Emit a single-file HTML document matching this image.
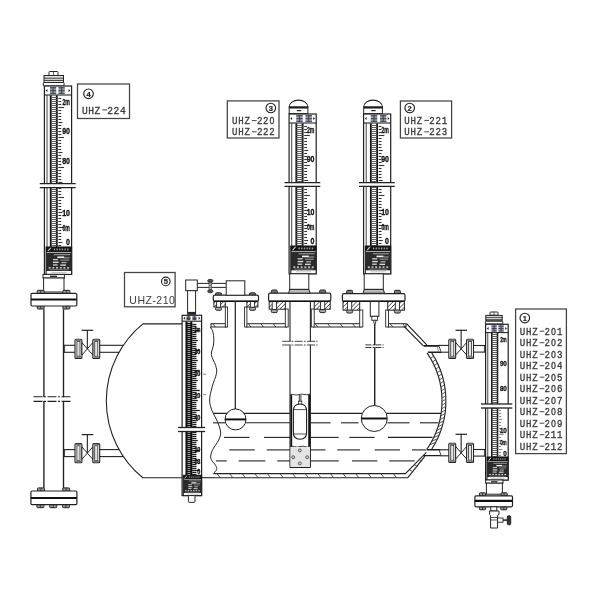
<!DOCTYPE html>
<html><head><meta charset="utf-8"><title>UHZ level gauges</title>
<style>
html,body{margin:0;padding:0;background:#fff;}
body{width:600px;height:600px;overflow:hidden;font-family:"Liberation Sans",sans-serif;}
svg{display:block;filter:blur(0.35px);}
svg text{font-family:"Liberation Sans",sans-serif;}
svg .m text{font-family:"Liberation Mono",monospace;}
</style></head><body>
<svg width="600" height="600" viewBox="0 0 600 600">
<rect width="600" height="600" fill="#fff"/>
<rect x="77.50" y="84.00" width="52.00" height="34.50" rx="0" fill="#fff" stroke="#444" stroke-width="1.265" />
<circle cx="88.50" cy="93.80" r="4.80" fill="#fff" stroke="#222" stroke-width="1.15"/>
<text x="88.50" y="96.50" font-size="7.6" text-anchor="middle" fill="#222" stroke="#222" stroke-width="0.2" font-weight="bold">4</text>
<g class="m" font-size="10.9" fill="#3c3c3c" stroke="#3c3c3c" stroke-width="0.36" text-anchor="middle"><text transform="translate(84.77,113.50) scale(0.88,1)">U</text><text transform="translate(91.11,113.50) scale(0.88,1)">H</text><text transform="translate(97.45,113.50) scale(0.88,1)">Z</text><line x1="102.18" y1="109.90" x2="107.20" y2="109.90" stroke-width="0.95"/><text transform="translate(110.13,113.50) scale(0.88,1)">2</text><text transform="translate(116.47,113.50) scale(0.88,1)">2</text><text transform="translate(122.81,113.50) scale(0.88,1)">4</text></g>
<rect x="227.30" y="100.90" width="51.70" height="37.10" rx="0" fill="#fff" stroke="#444" stroke-width="1.265" />
<circle cx="270.80" cy="108.00" r="4.80" fill="#fff" stroke="#222" stroke-width="1.15"/>
<text x="270.80" y="110.70" font-size="7.6" text-anchor="middle" fill="#222" stroke="#222" stroke-width="0.2" font-weight="bold">3</text>
<g class="m" font-size="10.3" fill="#3c3c3c" stroke="#3c3c3c" stroke-width="0.36" text-anchor="middle"><text transform="translate(234.69,124.00) scale(0.88,1)">U</text><text transform="translate(240.92,124.00) scale(0.88,1)">H</text><text transform="translate(247.15,124.00) scale(0.88,1)">Z</text><line x1="251.91" y1="120.60" x2="256.65" y2="120.60" stroke-width="0.95"/><text transform="translate(259.61,124.00) scale(0.88,1)">2</text><text transform="translate(265.84,124.00) scale(0.88,1)">2</text><text transform="translate(272.07,124.00) scale(0.8,1)">O</text></g>
<g class="m" font-size="10.3" fill="#3c3c3c" stroke="#3c3c3c" stroke-width="0.36" text-anchor="middle"><text transform="translate(234.69,135.20) scale(0.88,1)">U</text><text transform="translate(240.92,135.20) scale(0.88,1)">H</text><text transform="translate(247.15,135.20) scale(0.88,1)">Z</text><line x1="251.91" y1="131.80" x2="256.65" y2="131.80" stroke-width="0.95"/><text transform="translate(259.61,135.20) scale(0.88,1)">2</text><text transform="translate(265.84,135.20) scale(0.88,1)">2</text><text transform="translate(272.07,135.20) scale(0.88,1)">2</text></g>
<rect x="400.40" y="101.00" width="51.20" height="37.00" rx="0" fill="#fff" stroke="#444" stroke-width="1.265" />
<circle cx="409.70" cy="108.00" r="4.80" fill="#fff" stroke="#222" stroke-width="1.15"/>
<text x="409.70" y="110.70" font-size="7.6" text-anchor="middle" fill="#222" stroke="#222" stroke-width="0.2" font-weight="bold">2</text>
<g class="m" font-size="10.3" fill="#3c3c3c" stroke="#3c3c3c" stroke-width="0.36" text-anchor="middle"><text transform="translate(407.09,123.80) scale(0.88,1)">U</text><text transform="translate(413.32,123.80) scale(0.88,1)">H</text><text transform="translate(419.55,123.80) scale(0.88,1)">Z</text><line x1="424.31" y1="120.40" x2="429.05" y2="120.40" stroke-width="0.95"/><text transform="translate(432.01,123.80) scale(0.88,1)">2</text><text transform="translate(438.24,123.80) scale(0.88,1)">2</text><text transform="translate(444.47,123.80) scale(0.88,1)">1</text></g>
<g class="m" font-size="10.3" fill="#3c3c3c" stroke="#3c3c3c" stroke-width="0.36" text-anchor="middle"><text transform="translate(407.09,135.20) scale(0.88,1)">U</text><text transform="translate(413.32,135.20) scale(0.88,1)">H</text><text transform="translate(419.55,135.20) scale(0.88,1)">Z</text><line x1="424.31" y1="131.80" x2="429.05" y2="131.80" stroke-width="0.95"/><text transform="translate(432.01,135.20) scale(0.88,1)">2</text><text transform="translate(438.24,135.20) scale(0.88,1)">2</text><text transform="translate(444.47,135.20) scale(0.88,1)">3</text></g>
<rect x="124.50" y="272.50" width="50.60" height="34.30" rx="0" fill="#fff" stroke="#444" stroke-width="1.265" />
<circle cx="165.80" cy="281.40" r="4.30" fill="#fff" stroke="#222" stroke-width="1.15"/>
<text x="165.80" y="284.10" font-size="7.6" text-anchor="middle" fill="#222" stroke="#222" stroke-width="0.2" font-weight="bold">5</text>
<text x="129.30" y="303.50" font-size="10.5" letter-spacing="0.5" fill="#3c3c3c" text-anchor="start" font-weight="normal" >UHZ-210</text>
<rect x="515.60" y="309.00" width="50.80" height="144.60" rx="0" fill="#fff" stroke="#444" stroke-width="1.265" />
<circle cx="524.80" cy="318.00" r="4.80" fill="#fff" stroke="#222" stroke-width="1.15"/>
<text x="524.80" y="320.70" font-size="7.6" text-anchor="middle" fill="#222" stroke="#222" stroke-width="0.2" font-weight="bold">1</text>
<g class="m" font-size="10.3" fill="#3c3c3c" stroke="#3c3c3c" stroke-width="0.36" text-anchor="middle"><text transform="translate(522.39,334.60) scale(0.88,1)">U</text><text transform="translate(528.62,334.60) scale(0.88,1)">H</text><text transform="translate(534.85,334.60) scale(0.88,1)">Z</text><line x1="539.61" y1="331.20" x2="544.35" y2="331.20" stroke-width="0.95"/><text transform="translate(547.31,334.60) scale(0.88,1)">2</text><text transform="translate(553.54,334.60) scale(0.8,1)">O</text><text transform="translate(559.77,334.60) scale(0.88,1)">1</text></g>
<g class="m" font-size="10.3" fill="#3c3c3c" stroke="#3c3c3c" stroke-width="0.36" text-anchor="middle"><text transform="translate(522.39,346.10) scale(0.88,1)">U</text><text transform="translate(528.62,346.10) scale(0.88,1)">H</text><text transform="translate(534.85,346.10) scale(0.88,1)">Z</text><line x1="539.61" y1="342.70" x2="544.35" y2="342.70" stroke-width="0.95"/><text transform="translate(547.31,346.10) scale(0.88,1)">2</text><text transform="translate(553.54,346.10) scale(0.8,1)">O</text><text transform="translate(559.77,346.10) scale(0.88,1)">2</text></g>
<g class="m" font-size="10.3" fill="#3c3c3c" stroke="#3c3c3c" stroke-width="0.36" text-anchor="middle"><text transform="translate(522.39,357.60) scale(0.88,1)">U</text><text transform="translate(528.62,357.60) scale(0.88,1)">H</text><text transform="translate(534.85,357.60) scale(0.88,1)">Z</text><line x1="539.61" y1="354.20" x2="544.35" y2="354.20" stroke-width="0.95"/><text transform="translate(547.31,357.60) scale(0.88,1)">2</text><text transform="translate(553.54,357.60) scale(0.8,1)">O</text><text transform="translate(559.77,357.60) scale(0.88,1)">3</text></g>
<g class="m" font-size="10.3" fill="#3c3c3c" stroke="#3c3c3c" stroke-width="0.36" text-anchor="middle"><text transform="translate(522.39,369.10) scale(0.88,1)">U</text><text transform="translate(528.62,369.10) scale(0.88,1)">H</text><text transform="translate(534.85,369.10) scale(0.88,1)">Z</text><line x1="539.61" y1="365.70" x2="544.35" y2="365.70" stroke-width="0.95"/><text transform="translate(547.31,369.10) scale(0.88,1)">2</text><text transform="translate(553.54,369.10) scale(0.8,1)">O</text><text transform="translate(559.77,369.10) scale(0.88,1)">4</text></g>
<g class="m" font-size="10.3" fill="#3c3c3c" stroke="#3c3c3c" stroke-width="0.36" text-anchor="middle"><text transform="translate(522.39,380.60) scale(0.88,1)">U</text><text transform="translate(528.62,380.60) scale(0.88,1)">H</text><text transform="translate(534.85,380.60) scale(0.88,1)">Z</text><line x1="539.61" y1="377.20" x2="544.35" y2="377.20" stroke-width="0.95"/><text transform="translate(547.31,380.60) scale(0.88,1)">2</text><text transform="translate(553.54,380.60) scale(0.8,1)">O</text><text transform="translate(559.77,380.60) scale(0.88,1)">5</text></g>
<g class="m" font-size="10.3" fill="#3c3c3c" stroke="#3c3c3c" stroke-width="0.36" text-anchor="middle"><text transform="translate(522.39,392.10) scale(0.88,1)">U</text><text transform="translate(528.62,392.10) scale(0.88,1)">H</text><text transform="translate(534.85,392.10) scale(0.88,1)">Z</text><line x1="539.61" y1="388.70" x2="544.35" y2="388.70" stroke-width="0.95"/><text transform="translate(547.31,392.10) scale(0.88,1)">2</text><text transform="translate(553.54,392.10) scale(0.8,1)">O</text><text transform="translate(559.77,392.10) scale(0.88,1)">6</text></g>
<g class="m" font-size="10.3" fill="#3c3c3c" stroke="#3c3c3c" stroke-width="0.36" text-anchor="middle"><text transform="translate(522.39,403.60) scale(0.88,1)">U</text><text transform="translate(528.62,403.60) scale(0.88,1)">H</text><text transform="translate(534.85,403.60) scale(0.88,1)">Z</text><line x1="539.61" y1="400.20" x2="544.35" y2="400.20" stroke-width="0.95"/><text transform="translate(547.31,403.60) scale(0.88,1)">2</text><text transform="translate(553.54,403.60) scale(0.8,1)">O</text><text transform="translate(559.77,403.60) scale(0.88,1)">7</text></g>
<g class="m" font-size="10.3" fill="#3c3c3c" stroke="#3c3c3c" stroke-width="0.36" text-anchor="middle"><text transform="translate(522.39,415.10) scale(0.88,1)">U</text><text transform="translate(528.62,415.10) scale(0.88,1)">H</text><text transform="translate(534.85,415.10) scale(0.88,1)">Z</text><line x1="539.61" y1="411.70" x2="544.35" y2="411.70" stroke-width="0.95"/><text transform="translate(547.31,415.10) scale(0.88,1)">2</text><text transform="translate(553.54,415.10) scale(0.8,1)">O</text><text transform="translate(559.77,415.10) scale(0.88,1)">8</text></g>
<g class="m" font-size="10.3" fill="#3c3c3c" stroke="#3c3c3c" stroke-width="0.36" text-anchor="middle"><text transform="translate(522.39,426.60) scale(0.88,1)">U</text><text transform="translate(528.62,426.60) scale(0.88,1)">H</text><text transform="translate(534.85,426.60) scale(0.88,1)">Z</text><line x1="539.61" y1="423.20" x2="544.35" y2="423.20" stroke-width="0.95"/><text transform="translate(547.31,426.60) scale(0.88,1)">2</text><text transform="translate(553.54,426.60) scale(0.8,1)">O</text><text transform="translate(559.77,426.60) scale(0.88,1)">9</text></g>
<g class="m" font-size="10.3" fill="#3c3c3c" stroke="#3c3c3c" stroke-width="0.36" text-anchor="middle"><text transform="translate(522.39,438.10) scale(0.88,1)">U</text><text transform="translate(528.62,438.10) scale(0.88,1)">H</text><text transform="translate(534.85,438.10) scale(0.88,1)">Z</text><line x1="539.61" y1="434.70" x2="544.35" y2="434.70" stroke-width="0.95"/><text transform="translate(547.31,438.10) scale(0.88,1)">2</text><text transform="translate(553.54,438.10) scale(0.88,1)">1</text><text transform="translate(559.77,438.10) scale(0.88,1)">1</text></g>
<g class="m" font-size="10.3" fill="#3c3c3c" stroke="#3c3c3c" stroke-width="0.36" text-anchor="middle"><text transform="translate(522.39,449.60) scale(0.88,1)">U</text><text transform="translate(528.62,449.60) scale(0.88,1)">H</text><text transform="translate(534.85,449.60) scale(0.88,1)">Z</text><line x1="539.61" y1="446.20" x2="544.35" y2="446.20" stroke-width="0.95"/><text transform="translate(547.31,449.60) scale(0.88,1)">2</text><text transform="translate(553.54,449.60) scale(0.88,1)">1</text><text transform="translate(559.77,449.60) scale(0.88,1)">2</text></g>
<rect x="49.00" y="71.50" width="9.00" height="4.00" rx="0.8" fill="#fff" stroke="#222" stroke-width="0.99" />
<line x1="53.50" y1="71.50" x2="53.50" y2="75.50" stroke="#222" stroke-width="0.66" />
<rect x="44.00" y="75.50" width="19.50" height="7.00" rx="0" fill="#e2e2e2" stroke="#222" stroke-width="0.99" />
<line x1="44.00" y1="78.20" x2="63.50" y2="78.20" stroke="#222" stroke-width="0.88" />
<line x1="44.00" y1="80.40" x2="63.50" y2="80.40" stroke="#222" stroke-width="0.88" />
<rect x="43.30" y="82.50" width="20.80" height="3.50" rx="0.8" fill="#fff" stroke="#222" stroke-width="0.99" />
<rect x="44.40" y="86.00" width="27.20" height="188.40" rx="0" fill="#fff" stroke="#222" stroke-width="1.21" />
<line x1="44.40" y1="95.00" x2="71.60" y2="95.00" stroke="#222" stroke-width="1.1" />
<path d="M45.60,90.50 l1.8,-1.5 l0,3 z M70.40,90.50 l-1.8,-1.5 l0,3 z" fill="#222"/>
<rect x="50.00" y="87.00" width="6.20" height="7.00" fill="#7f8797" opacity="0.8"/>
<line x1="50.00" y1="87.80" x2="56.20" y2="87.80" stroke="#3a3f4a" stroke-width="0.99" />
<line x1="50.00" y1="90.70" x2="56.20" y2="90.70" stroke="#3a3f4a" stroke-width="0.99" />
<line x1="50.00" y1="93.40" x2="56.20" y2="93.40" stroke="#3a3f4a" stroke-width="0.88" />
<line x1="53.10" y1="87.20" x2="53.10" y2="94.00" stroke="#3a3f4a" stroke-width="0.99" />
<rect x="58.50" y="87.00" width="6.20" height="7.00" fill="#7f8797" opacity="0.8"/>
<line x1="58.50" y1="87.80" x2="64.70" y2="87.80" stroke="#3a3f4a" stroke-width="0.99" />
<line x1="58.50" y1="90.70" x2="64.70" y2="90.70" stroke="#3a3f4a" stroke-width="0.99" />
<line x1="58.50" y1="93.40" x2="64.70" y2="93.40" stroke="#3a3f4a" stroke-width="0.88" />
<line x1="61.60" y1="87.20" x2="61.60" y2="94.00" stroke="#3a3f4a" stroke-width="0.99" />
<line x1="47.02" y1="95.00" x2="47.02" y2="247.00" stroke="#444" stroke-width="0.99" />
<line x1="50.75" y1="95.40" x2="50.75" y2="247.00" stroke="#111" stroke-width="1.884" />
<line x1="56.79" y1="95.40" x2="56.79" y2="247.00" stroke="#111" stroke-width="1.884" />
<line x1="50.75" y1="97.50" x2="56.79" y2="97.50" stroke="#5a5a5a" stroke-width="0.99" />
<line x1="50.75" y1="99.50" x2="56.79" y2="99.50" stroke="#5a5a5a" stroke-width="0.99" />
<line x1="50.75" y1="101.50" x2="56.79" y2="101.50" stroke="#5a5a5a" stroke-width="0.99" />
<line x1="50.75" y1="103.50" x2="56.79" y2="103.50" stroke="#5a5a5a" stroke-width="0.99" />
<line x1="50.75" y1="105.50" x2="56.79" y2="105.50" stroke="#5a5a5a" stroke-width="0.99" />
<line x1="50.75" y1="107.50" x2="56.79" y2="107.50" stroke="#5a5a5a" stroke-width="0.99" />
<line x1="50.75" y1="109.50" x2="56.79" y2="109.50" stroke="#5a5a5a" stroke-width="0.99" />
<line x1="50.75" y1="111.50" x2="56.79" y2="111.50" stroke="#5a5a5a" stroke-width="0.99" />
<line x1="50.75" y1="113.50" x2="56.79" y2="113.50" stroke="#5a5a5a" stroke-width="0.99" />
<line x1="50.75" y1="115.50" x2="56.79" y2="115.50" stroke="#5a5a5a" stroke-width="0.99" />
<line x1="50.75" y1="117.50" x2="56.79" y2="117.50" stroke="#5a5a5a" stroke-width="0.99" />
<line x1="50.75" y1="119.50" x2="56.79" y2="119.50" stroke="#5a5a5a" stroke-width="0.99" />
<line x1="50.75" y1="121.50" x2="56.79" y2="121.50" stroke="#5a5a5a" stroke-width="0.99" />
<line x1="50.75" y1="123.50" x2="56.79" y2="123.50" stroke="#5a5a5a" stroke-width="0.99" />
<line x1="50.75" y1="125.50" x2="56.79" y2="125.50" stroke="#5a5a5a" stroke-width="0.99" />
<line x1="50.75" y1="127.50" x2="56.79" y2="127.50" stroke="#5a5a5a" stroke-width="0.99" />
<line x1="50.75" y1="129.50" x2="56.79" y2="129.50" stroke="#5a5a5a" stroke-width="0.99" />
<line x1="50.75" y1="131.50" x2="56.79" y2="131.50" stroke="#5a5a5a" stroke-width="0.99" />
<line x1="50.75" y1="133.50" x2="56.79" y2="133.50" stroke="#5a5a5a" stroke-width="0.99" />
<line x1="50.75" y1="135.50" x2="56.79" y2="135.50" stroke="#5a5a5a" stroke-width="0.99" />
<line x1="50.75" y1="137.50" x2="56.79" y2="137.50" stroke="#5a5a5a" stroke-width="0.99" />
<line x1="50.75" y1="139.50" x2="56.79" y2="139.50" stroke="#5a5a5a" stroke-width="0.99" />
<line x1="50.75" y1="141.50" x2="56.79" y2="141.50" stroke="#5a5a5a" stroke-width="0.99" />
<line x1="50.75" y1="143.50" x2="56.79" y2="143.50" stroke="#5a5a5a" stroke-width="0.99" />
<line x1="50.75" y1="145.50" x2="56.79" y2="145.50" stroke="#5a5a5a" stroke-width="0.99" />
<line x1="50.75" y1="147.50" x2="56.79" y2="147.50" stroke="#5a5a5a" stroke-width="0.99" />
<line x1="50.75" y1="149.50" x2="56.79" y2="149.50" stroke="#5a5a5a" stroke-width="0.99" />
<line x1="50.75" y1="151.50" x2="56.79" y2="151.50" stroke="#5a5a5a" stroke-width="0.99" />
<line x1="50.75" y1="153.50" x2="56.79" y2="153.50" stroke="#5a5a5a" stroke-width="0.99" />
<line x1="50.75" y1="155.50" x2="56.79" y2="155.50" stroke="#5a5a5a" stroke-width="0.99" />
<line x1="50.75" y1="157.50" x2="56.79" y2="157.50" stroke="#5a5a5a" stroke-width="0.99" />
<line x1="50.75" y1="159.50" x2="56.79" y2="159.50" stroke="#5a5a5a" stroke-width="0.99" />
<line x1="50.75" y1="161.50" x2="56.79" y2="161.50" stroke="#5a5a5a" stroke-width="0.99" />
<line x1="50.75" y1="163.50" x2="56.79" y2="163.50" stroke="#5a5a5a" stroke-width="0.99" />
<line x1="50.75" y1="165.50" x2="56.79" y2="165.50" stroke="#5a5a5a" stroke-width="0.99" />
<line x1="50.75" y1="167.50" x2="56.79" y2="167.50" stroke="#5a5a5a" stroke-width="0.99" />
<line x1="50.75" y1="169.50" x2="56.79" y2="169.50" stroke="#5a5a5a" stroke-width="0.99" />
<line x1="50.75" y1="171.50" x2="56.79" y2="171.50" stroke="#5a5a5a" stroke-width="0.99" />
<line x1="50.75" y1="173.50" x2="56.79" y2="173.50" stroke="#5a5a5a" stroke-width="0.99" />
<line x1="50.75" y1="175.50" x2="56.79" y2="175.50" stroke="#5a5a5a" stroke-width="0.99" />
<line x1="50.75" y1="177.50" x2="56.79" y2="177.50" stroke="#5a5a5a" stroke-width="0.99" />
<line x1="50.75" y1="179.50" x2="56.79" y2="179.50" stroke="#5a5a5a" stroke-width="0.99" />
<line x1="50.75" y1="181.50" x2="56.79" y2="181.50" stroke="#5a5a5a" stroke-width="0.99" />
<line x1="50.75" y1="183.50" x2="56.79" y2="183.50" stroke="#5a5a5a" stroke-width="0.99" />
<line x1="50.75" y1="185.50" x2="56.79" y2="185.50" stroke="#5a5a5a" stroke-width="0.99" />
<line x1="50.75" y1="187.50" x2="56.79" y2="187.50" stroke="#5a5a5a" stroke-width="0.99" />
<line x1="50.75" y1="189.50" x2="56.79" y2="189.50" stroke="#5a5a5a" stroke-width="0.99" />
<line x1="50.75" y1="191.50" x2="56.79" y2="191.50" stroke="#5a5a5a" stroke-width="0.99" />
<line x1="50.75" y1="193.50" x2="56.79" y2="193.50" stroke="#5a5a5a" stroke-width="0.99" />
<line x1="50.75" y1="195.50" x2="56.79" y2="195.50" stroke="#5a5a5a" stroke-width="0.99" />
<line x1="50.75" y1="197.50" x2="56.79" y2="197.50" stroke="#5a5a5a" stroke-width="0.99" />
<line x1="50.75" y1="199.50" x2="56.79" y2="199.50" stroke="#5a5a5a" stroke-width="0.99" />
<line x1="50.75" y1="201.50" x2="56.79" y2="201.50" stroke="#5a5a5a" stroke-width="0.99" />
<line x1="50.75" y1="203.50" x2="56.79" y2="203.50" stroke="#5a5a5a" stroke-width="0.99" />
<line x1="50.75" y1="205.50" x2="56.79" y2="205.50" stroke="#5a5a5a" stroke-width="0.99" />
<line x1="50.75" y1="207.50" x2="56.79" y2="207.50" stroke="#5a5a5a" stroke-width="0.99" />
<line x1="50.75" y1="209.50" x2="56.79" y2="209.50" stroke="#5a5a5a" stroke-width="0.99" />
<line x1="50.75" y1="211.50" x2="56.79" y2="211.50" stroke="#5a5a5a" stroke-width="0.99" />
<line x1="50.75" y1="213.50" x2="56.79" y2="213.50" stroke="#5a5a5a" stroke-width="0.99" />
<line x1="50.75" y1="215.50" x2="56.79" y2="215.50" stroke="#5a5a5a" stroke-width="0.99" />
<line x1="50.75" y1="217.50" x2="56.79" y2="217.50" stroke="#5a5a5a" stroke-width="0.99" />
<line x1="50.75" y1="219.50" x2="56.79" y2="219.50" stroke="#5a5a5a" stroke-width="0.99" />
<line x1="50.75" y1="221.50" x2="56.79" y2="221.50" stroke="#5a5a5a" stroke-width="0.99" />
<line x1="50.75" y1="223.50" x2="56.79" y2="223.50" stroke="#5a5a5a" stroke-width="0.99" />
<line x1="50.75" y1="225.50" x2="56.79" y2="225.50" stroke="#5a5a5a" stroke-width="0.99" />
<line x1="50.75" y1="227.50" x2="56.79" y2="227.50" stroke="#5a5a5a" stroke-width="0.99" />
<line x1="50.75" y1="229.50" x2="56.79" y2="229.50" stroke="#5a5a5a" stroke-width="0.99" />
<line x1="50.75" y1="231.50" x2="56.79" y2="231.50" stroke="#5a5a5a" stroke-width="0.99" />
<line x1="50.75" y1="233.50" x2="56.79" y2="233.50" stroke="#5a5a5a" stroke-width="0.99" />
<line x1="50.75" y1="235.50" x2="56.79" y2="235.50" stroke="#5a5a5a" stroke-width="0.99" />
<line x1="50.75" y1="237.50" x2="56.79" y2="237.50" stroke="#5a5a5a" stroke-width="0.99" />
<line x1="50.75" y1="239.50" x2="56.79" y2="239.50" stroke="#5a5a5a" stroke-width="0.99" />
<line x1="50.75" y1="241.50" x2="56.79" y2="241.50" stroke="#5a5a5a" stroke-width="0.99" />
<line x1="50.75" y1="243.50" x2="56.79" y2="243.50" stroke="#5a5a5a" stroke-width="0.99" />
<line x1="50.75" y1="245.50" x2="56.79" y2="245.50" stroke="#5a5a5a" stroke-width="0.99" />
<line x1="58.40" y1="98.50" x2="61.22" y2="98.50" stroke="#333" stroke-width="1.1" />
<line x1="58.40" y1="101.50" x2="61.22" y2="101.50" stroke="#333" stroke-width="1.1" />
<line x1="58.40" y1="104.50" x2="61.22" y2="104.50" stroke="#333" stroke-width="1.1" />
<line x1="58.40" y1="107.50" x2="64.04" y2="107.50" stroke="#333" stroke-width="1.1" />
<line x1="58.40" y1="110.50" x2="61.22" y2="110.50" stroke="#333" stroke-width="1.1" />
<line x1="58.40" y1="113.50" x2="61.22" y2="113.50" stroke="#333" stroke-width="1.1" />
<line x1="58.40" y1="116.50" x2="61.22" y2="116.50" stroke="#333" stroke-width="1.1" />
<line x1="58.40" y1="119.50" x2="61.22" y2="119.50" stroke="#333" stroke-width="1.1" />
<line x1="58.40" y1="122.50" x2="62.43" y2="122.50" stroke="#333" stroke-width="1.1" />
<line x1="58.40" y1="125.50" x2="61.22" y2="125.50" stroke="#333" stroke-width="1.1" />
<line x1="58.40" y1="128.50" x2="61.22" y2="128.50" stroke="#333" stroke-width="1.1" />
<line x1="58.40" y1="131.50" x2="61.22" y2="131.50" stroke="#333" stroke-width="1.1" />
<line x1="58.40" y1="134.50" x2="61.22" y2="134.50" stroke="#333" stroke-width="1.1" />
<line x1="58.40" y1="137.50" x2="64.04" y2="137.50" stroke="#333" stroke-width="1.1" />
<line x1="58.40" y1="140.50" x2="61.22" y2="140.50" stroke="#333" stroke-width="1.1" />
<line x1="58.40" y1="143.50" x2="61.22" y2="143.50" stroke="#333" stroke-width="1.1" />
<line x1="58.40" y1="146.50" x2="61.22" y2="146.50" stroke="#333" stroke-width="1.1" />
<line x1="58.40" y1="149.50" x2="61.22" y2="149.50" stroke="#333" stroke-width="1.1" />
<line x1="58.40" y1="152.50" x2="62.43" y2="152.50" stroke="#333" stroke-width="1.1" />
<line x1="58.40" y1="155.50" x2="61.22" y2="155.50" stroke="#333" stroke-width="1.1" />
<line x1="58.40" y1="158.50" x2="61.22" y2="158.50" stroke="#333" stroke-width="1.1" />
<line x1="58.40" y1="161.50" x2="61.22" y2="161.50" stroke="#333" stroke-width="1.1" />
<line x1="58.40" y1="164.50" x2="61.22" y2="164.50" stroke="#333" stroke-width="1.1" />
<line x1="58.40" y1="167.50" x2="64.04" y2="167.50" stroke="#333" stroke-width="1.1" />
<line x1="58.40" y1="170.50" x2="61.22" y2="170.50" stroke="#333" stroke-width="1.1" />
<line x1="58.40" y1="173.50" x2="61.22" y2="173.50" stroke="#333" stroke-width="1.1" />
<line x1="58.40" y1="176.50" x2="61.22" y2="176.50" stroke="#333" stroke-width="1.1" />
<line x1="58.40" y1="179.50" x2="61.22" y2="179.50" stroke="#333" stroke-width="1.1" />
<line x1="58.40" y1="182.50" x2="62.43" y2="182.50" stroke="#333" stroke-width="1.1" />
<line x1="58.40" y1="185.50" x2="61.22" y2="185.50" stroke="#333" stroke-width="1.1" />
<line x1="58.40" y1="188.50" x2="61.22" y2="188.50" stroke="#333" stroke-width="1.1" />
<line x1="58.40" y1="191.50" x2="61.22" y2="191.50" stroke="#333" stroke-width="1.1" />
<line x1="58.40" y1="194.50" x2="61.22" y2="194.50" stroke="#333" stroke-width="1.1" />
<line x1="58.40" y1="197.50" x2="64.04" y2="197.50" stroke="#333" stroke-width="1.1" />
<line x1="58.40" y1="200.50" x2="61.22" y2="200.50" stroke="#333" stroke-width="1.1" />
<line x1="58.40" y1="203.50" x2="61.22" y2="203.50" stroke="#333" stroke-width="1.1" />
<line x1="58.40" y1="206.50" x2="61.22" y2="206.50" stroke="#333" stroke-width="1.1" />
<line x1="58.40" y1="209.50" x2="61.22" y2="209.50" stroke="#333" stroke-width="1.1" />
<line x1="58.40" y1="212.50" x2="62.43" y2="212.50" stroke="#333" stroke-width="1.1" />
<line x1="58.40" y1="215.50" x2="61.22" y2="215.50" stroke="#333" stroke-width="1.1" />
<line x1="58.40" y1="218.50" x2="61.22" y2="218.50" stroke="#333" stroke-width="1.1" />
<line x1="58.40" y1="221.50" x2="61.22" y2="221.50" stroke="#333" stroke-width="1.1" />
<line x1="58.40" y1="224.50" x2="61.22" y2="224.50" stroke="#333" stroke-width="1.1" />
<line x1="58.40" y1="227.50" x2="64.04" y2="227.50" stroke="#333" stroke-width="1.1" />
<line x1="58.40" y1="230.50" x2="61.22" y2="230.50" stroke="#333" stroke-width="1.1" />
<line x1="58.40" y1="233.50" x2="61.22" y2="233.50" stroke="#333" stroke-width="1.1" />
<line x1="58.40" y1="236.50" x2="61.22" y2="236.50" stroke="#333" stroke-width="1.1" />
<line x1="58.40" y1="239.50" x2="61.22" y2="239.50" stroke="#333" stroke-width="1.1" />
<line x1="58.40" y1="242.50" x2="62.43" y2="242.50" stroke="#333" stroke-width="1.1" />
<line x1="58.40" y1="245.50" x2="61.22" y2="245.50" stroke="#333" stroke-width="1.1" />
<text transform="translate(69.69,105.30) scale(0.62,1)" font-size="8.36" text-anchor="end" fill="#111" stroke="#111" stroke-width="0.3" font-weight="bold" letter-spacing="-0.2">2m</text>
<text transform="translate(69.69,133.50) scale(0.84,1)" font-size="8.36" text-anchor="end" fill="#111" stroke="#111" stroke-width="0.3" font-weight="bold" letter-spacing="-0.2">90</text>
<text transform="translate(69.69,163.50) scale(0.84,1)" font-size="8.36" text-anchor="end" fill="#111" stroke="#111" stroke-width="0.3" font-weight="bold" letter-spacing="-0.2">80</text>
<text transform="translate(69.69,215.50) scale(0.84,1)" font-size="8.36" text-anchor="end" fill="#111" stroke="#111" stroke-width="0.3" font-weight="bold" letter-spacing="-0.2">10</text>
<text transform="translate(69.69,230.50) scale(0.62,1)" font-size="8.36" text-anchor="end" fill="#111" stroke="#111" stroke-width="0.3" font-weight="bold" letter-spacing="-0.2">0m</text>
<text transform="translate(69.69,245.00) scale(0.84,1)" font-size="8.36" text-anchor="end" fill="#111" stroke="#111" stroke-width="0.3" font-weight="bold" letter-spacing="-0.2">0</text>
<rect x="46.11" y="247.00" width="25.49" height="27.40" rx="0" fill="#fff" stroke="#222" stroke-width="1.1" />
<rect x="46.11" y="247.00" width="25.49" height="23.97" fill="#2a2a2a"/>
<rect x="46.11" y="247.00" width="25.49" height="4.66" fill="#151515"/>
<path d="M47.39,251.11 L50.19,247.82 L51.46,247.82 L48.66,251.11 Z" fill="#ddd"/>
<rect x="53.76" y="248.51" width="1.40" height="1.78" fill="#9a9a9a"/>
<rect x="56.43" y="248.51" width="1.40" height="1.78" fill="#9a9a9a"/>
<rect x="59.11" y="248.51" width="1.40" height="1.78" fill="#9a9a9a"/>
<rect x="61.79" y="248.51" width="1.40" height="1.78" fill="#9a9a9a"/>
<rect x="64.46" y="248.51" width="1.40" height="1.78" fill="#9a9a9a"/>
<rect x="67.14" y="248.51" width="1.40" height="1.78" fill="#9a9a9a"/>
<rect x="46.88" y="252.07" width="23.96" height="0.82" fill="#c8c8c8"/>
<rect x="53.76" y="253.99" width="16.31" height="1.23" fill="#8c8c8c"/>
<rect x="57.33" y="256.45" width="6.88" height="1.64" fill="#f2f2f2"/>
<rect x="63.95" y="257.27" width="5.61" height="1.10" fill="#9a9a9a"/>
<rect x="52.99" y="258.92" width="5.10" height="1.37" fill="#c4c4c4"/>
<rect x="60.39" y="259.47" width="8.67" height="1.23" fill="#8a8a8a"/>
<rect x="52.99" y="261.66" width="5.61" height="1.37" fill="#dcdcdc"/>
<rect x="61.41" y="261.93" width="5.10" height="1.23" fill="#b0b0b0"/>
<rect x="52.99" y="264.26" width="4.59" height="1.37" fill="#c8c8c8"/>
<rect x="60.39" y="264.40" width="5.61" height="1.37" fill="#d8d8d8"/>
<rect x="48.66" y="267.14" width="1.91" height="1.37" fill="#e0e0e0"/>
<rect x="52.36" y="267.14" width="1.91" height="1.37" fill="#e0e0e0"/>
<rect x="56.05" y="267.14" width="1.91" height="1.37" fill="#e0e0e0"/>
<rect x="59.75" y="267.14" width="1.91" height="1.37" fill="#e0e0e0"/>
<rect x="63.44" y="267.14" width="1.91" height="1.37" fill="#e0e0e0"/>
<rect x="67.14" y="267.14" width="1.91" height="1.37" fill="#e0e0e0"/>
<rect x="49.17" y="269.33" width="19.37" height="0.82" fill="#8a8a8a"/>
<rect x="51.21" y="272.07" width="15.29" height="0.82" fill="#bbb"/>
<rect x="39.80" y="183.60" width="36.40" height="4.00" fill="#fff"/>
<line x1="39.80" y1="183.60" x2="75.70" y2="183.60" stroke="#222" stroke-width="1.32" />
<line x1="39.80" y1="187.60" x2="75.70" y2="187.60" stroke="#222" stroke-width="1.32" />
<rect x="43.00" y="274.40" width="21.40" height="3.60" rx="0" fill="#fff" stroke="#222" stroke-width="0.99" />
<line x1="50.00" y1="276.30" x2="57.00" y2="276.30" stroke="#222" stroke-width="1.32" />
<rect x="43.60" y="278.00" width="20.40" height="14.00" rx="0" fill="#fff" stroke="#222" stroke-width="0.99" />
<rect x="37.20" y="290.30" width="7.00" height="3.40" rx="0.9" fill="#999" stroke="#222" stroke-width="0.99" />
<line x1="40.70" y1="290.30" x2="40.70" y2="293.40" stroke="#222" stroke-width="0.77" />
<rect x="62.90" y="290.30" width="7.00" height="3.40" rx="0.9" fill="#999" stroke="#222" stroke-width="0.99" />
<line x1="66.40" y1="290.30" x2="66.40" y2="293.40" stroke="#222" stroke-width="0.77" />
<rect x="37.20" y="305.70" width="7.00" height="3.30" rx="0.9" fill="#999" stroke="#222" stroke-width="0.99" />
<line x1="40.70" y1="306.00" x2="40.70" y2="309.00" stroke="#222" stroke-width="0.77" />
<rect x="62.90" y="305.70" width="7.00" height="3.30" rx="0.9" fill="#999" stroke="#222" stroke-width="0.99" />
<line x1="66.40" y1="306.00" x2="66.40" y2="309.00" stroke="#222" stroke-width="0.77" />
<rect x="31.00" y="293.40" width="45.80" height="12.60" rx="1.2" fill="#fff" stroke="#222" stroke-width="1.21" />
<line x1="31.00" y1="299.50" x2="76.80" y2="299.50" stroke="#111" stroke-width="2.09" />
<line x1="43.90" y1="309.20" x2="43.90" y2="488.00" stroke="#222" stroke-width="1.375" />
<line x1="63.50" y1="309.20" x2="63.50" y2="488.00" stroke="#222" stroke-width="1.375" />
<rect x="33" y="397.2" width="39" height="3.8" fill="#fff"/>
<line x1="33.50" y1="396.80" x2="71.50" y2="396.80" stroke="#222" stroke-width="1.1" stroke-dasharray="9 1.5 2 1.5"/>
<line x1="33.50" y1="401.40" x2="71.50" y2="401.40" stroke="#222" stroke-width="1.1" stroke-dasharray="9 1.5 2 1.5"/>
<rect x="37.50" y="487.90" width="7.00" height="3.40" rx="0.9" fill="#999" stroke="#222" stroke-width="0.99" />
<line x1="41.00" y1="487.90" x2="41.00" y2="491.00" stroke="#222" stroke-width="0.77" />
<rect x="62.70" y="487.90" width="7.00" height="3.40" rx="0.9" fill="#999" stroke="#222" stroke-width="0.99" />
<line x1="66.20" y1="487.90" x2="66.20" y2="491.00" stroke="#222" stroke-width="0.77" />
<rect x="36.90" y="504.40" width="7.00" height="3.30" rx="0.9" fill="#999" stroke="#222" stroke-width="0.99" />
<line x1="40.40" y1="504.70" x2="40.40" y2="507.70" stroke="#222" stroke-width="0.77" />
<rect x="49.70" y="504.40" width="7.00" height="3.30" rx="0.9" fill="#999" stroke="#222" stroke-width="0.99" />
<line x1="53.20" y1="504.70" x2="53.20" y2="507.70" stroke="#222" stroke-width="0.77" />
<rect x="62.50" y="504.40" width="7.00" height="3.30" rx="0.9" fill="#999" stroke="#222" stroke-width="0.99" />
<line x1="66.00" y1="504.70" x2="66.00" y2="507.70" stroke="#222" stroke-width="0.77" />
<rect x="30.90" y="491.00" width="46.00" height="13.70" rx="1.2" fill="#fff" stroke="#222" stroke-width="1.21" />
<line x1="30.90" y1="498.00" x2="76.90" y2="498.00" stroke="#111" stroke-width="2.09" />
<line x1="63.60" y1="345.30" x2="75.00" y2="345.30" stroke="#222" stroke-width="1.1" />
<line x1="63.60" y1="352.30" x2="75.00" y2="352.30" stroke="#222" stroke-width="1.1" />
<line x1="64.60" y1="345.30" x2="64.60" y2="352.30" stroke="#222" stroke-width="0.88" />
<rect x="75.00" y="339.20" width="6.90" height="19.20" rx="1" fill="#fff" stroke="#222" stroke-width="1.1" />
<rect x="76.90" y="341.40" width="3.10" height="14.80" fill="#e4e4e4" stroke="#333" stroke-width="0.8"/>
<rect x="75.60" y="339.50" width="5.70" height="1.6" fill="#777"/>
<rect x="75.60" y="356.20" width="5.70" height="1.6" fill="#777"/>
<rect x="92.80" y="339.20" width="6.90" height="19.20" rx="1" fill="#fff" stroke="#222" stroke-width="1.1" />
<rect x="94.70" y="341.40" width="3.10" height="14.80" fill="#e4e4e4" stroke="#333" stroke-width="0.8"/>
<rect x="93.40" y="339.50" width="5.70" height="1.6" fill="#777"/>
<rect x="93.40" y="356.20" width="5.70" height="1.6" fill="#777"/>
<path d="M81.90,342.60 L92.80,355.00 L92.80,342.60 L81.90,355.00 Z" fill="#fff" stroke="#222" stroke-width="0.99" />
<line x1="87.35" y1="348.80" x2="87.35" y2="330.30" stroke="#222" stroke-width="1.1" />
<line x1="81.70" y1="330.30" x2="93.20" y2="330.30" stroke="#222" stroke-width="1.21" />
<line x1="63.60" y1="449.60" x2="75.00" y2="449.60" stroke="#222" stroke-width="1.1" />
<line x1="63.60" y1="456.60" x2="75.00" y2="456.60" stroke="#222" stroke-width="1.1" />
<line x1="64.60" y1="449.60" x2="64.60" y2="456.60" stroke="#222" stroke-width="0.88" />
<rect x="75.00" y="443.50" width="6.90" height="19.20" rx="1" fill="#fff" stroke="#222" stroke-width="1.1" />
<rect x="76.90" y="445.70" width="3.10" height="14.80" fill="#e4e4e4" stroke="#333" stroke-width="0.8"/>
<rect x="75.60" y="443.80" width="5.70" height="1.6" fill="#777"/>
<rect x="75.60" y="460.50" width="5.70" height="1.6" fill="#777"/>
<rect x="92.80" y="443.50" width="6.90" height="19.20" rx="1" fill="#fff" stroke="#222" stroke-width="1.1" />
<rect x="94.70" y="445.70" width="3.10" height="14.80" fill="#e4e4e4" stroke="#333" stroke-width="0.8"/>
<rect x="93.40" y="443.80" width="5.70" height="1.6" fill="#777"/>
<rect x="93.40" y="460.50" width="5.70" height="1.6" fill="#777"/>
<path d="M81.90,446.90 L92.80,459.30 L92.80,446.90 L81.90,459.30 Z" fill="#fff" stroke="#222" stroke-width="0.99" />
<line x1="87.35" y1="453.10" x2="87.35" y2="434.60" stroke="#222" stroke-width="1.1" />
<line x1="81.70" y1="434.60" x2="93.20" y2="434.60" stroke="#222" stroke-width="1.21" />
<line x1="99.40" y1="345.30" x2="123.31" y2="345.30" stroke="#222" stroke-width="1.1" />
<line x1="99.40" y1="352.30" x2="118.99" y2="352.30" stroke="#222" stroke-width="1.1" />
<line x1="99.40" y1="449.60" x2="119.11" y2="449.60" stroke="#222" stroke-width="1.1" />
<line x1="99.40" y1="456.60" x2="123.45" y2="456.60" stroke="#222" stroke-width="1.1" />
<path d="M182.5,323.9 L142.90,323.9 A99.2 99.2 0 0 0 142.77,477.7 L183,477.7" fill="none" stroke="#222" stroke-width="1.1" />
<path d="M201.5,477.7 L213,477.7" fill="none" stroke="#222" stroke-width="1.1" />
<path d="M210.30,326.90 C210.80,327.97 212.75,330.45 213.30,333.30 C213.85,336.15 213.92,340.43 213.60,344.00 C213.28,347.57 211.07,351.15 211.40,354.70 C211.73,358.25 214.75,362.20 215.60,365.30 C216.45,368.40 217.07,369.73 216.50,373.30 C215.93,376.87 213.35,382.25 212.20,386.70 C211.05,391.15 209.63,396.00 209.60,400.00 C209.57,404.00 210.72,407.15 212.00,410.70 C213.28,414.25 215.87,417.75 217.30,421.30 C218.73,424.85 220.37,428.88 220.60,432.00 C220.83,435.12 220.10,436.88 218.70,440.00 C217.30,443.12 213.50,447.58 212.20,450.70 C210.90,453.82 210.33,456.27 210.90,458.70 C211.47,461.13 214.65,463.48 215.60,465.30 C216.55,467.12 217.00,468.22 216.60,469.60 C216.20,470.98 213.77,472.93 213.20,473.60" fill="none" stroke="#222" stroke-width="0.99" />
<clipPath id="hc1"><rect x="211.00" y="323.70" width="15.00" height="3.30"/></clipPath>
<g clip-path="url(#hc1)" stroke="#333" stroke-width="0.9"><line x1="212.70" y1="323.70" x2="215.34" y2="327.00"/><line x1="225.20" y1="323.70" x2="227.84" y2="327.00"/></g>
<rect x="211.00" y="323.70" width="15.00" height="3.30" rx="0" fill="none" stroke="#222" stroke-width="0.99" />
<clipPath id="hc2"><rect x="246.60" y="323.70" width="39.90" height="3.30"/></clipPath>
<g clip-path="url(#hc2)" stroke="#333" stroke-width="0.9"><line x1="248.30" y1="323.70" x2="250.94" y2="327.00"/><line x1="260.80" y1="323.70" x2="263.44" y2="327.00"/><line x1="273.30" y1="323.70" x2="275.94" y2="327.00"/><line x1="285.80" y1="323.70" x2="288.44" y2="327.00"/></g>
<rect x="246.60" y="323.70" width="39.90" height="3.30" rx="0" fill="none" stroke="#222" stroke-width="0.99" />
<clipPath id="hc3"><rect x="313.50" y="323.70" width="47.10" height="3.30"/></clipPath>
<g clip-path="url(#hc3)" stroke="#333" stroke-width="0.9"><line x1="315.20" y1="323.70" x2="317.84" y2="327.00"/><line x1="327.70" y1="323.70" x2="330.34" y2="327.00"/><line x1="340.20" y1="323.70" x2="342.84" y2="327.00"/><line x1="352.70" y1="323.70" x2="355.34" y2="327.00"/></g>
<rect x="313.50" y="323.70" width="47.10" height="3.30" rx="0" fill="none" stroke="#222" stroke-width="0.99" />
<clipPath id="hc4"><rect x="388.50" y="323.70" width="17.50" height="3.30"/></clipPath>
<g clip-path="url(#hc4)" stroke="#333" stroke-width="0.9"><line x1="390.20" y1="323.70" x2="392.84" y2="327.00"/><line x1="402.70" y1="323.70" x2="405.34" y2="327.00"/></g>
<rect x="388.50" y="323.70" width="17.50" height="3.30" rx="0" fill="none" stroke="#222" stroke-width="0.99" />
<rect x="225.30" y="307.00" width="2.30" height="20.00" rx="0" fill="#fff" stroke="#222" stroke-width="0.88" />
<rect x="244.60" y="307.00" width="2.30" height="20.00" rx="0" fill="#fff" stroke="#222" stroke-width="0.88" />
<rect x="285.30" y="309.00" width="2.90" height="18.00" rx="0" fill="#fff" stroke="#222" stroke-width="0.88" />
<rect x="311.30" y="309.00" width="2.90" height="18.00" rx="0" fill="#fff" stroke="#222" stroke-width="0.88" />
<rect x="359.70" y="310.00" width="3.10" height="17.00" rx="0" fill="#fff" stroke="#222" stroke-width="0.88" />
<rect x="385.70" y="310.00" width="2.80" height="17.00" rx="0" fill="#fff" stroke="#222" stroke-width="0.88" />
<clipPath id="hc5"><rect x="213.90" y="301.30" width="11.40" height="5.70"/></clipPath>
<g clip-path="url(#hc5)" stroke="#333" stroke-width="0.9"><line x1="209.88" y1="307.00" x2="215.58" y2="301.30"/><line x1="214.08" y1="307.00" x2="219.78" y2="301.30"/><line x1="218.28" y1="307.00" x2="223.98" y2="301.30"/><line x1="222.48" y1="307.00" x2="228.18" y2="301.30"/><line x1="226.68" y1="307.00" x2="232.38" y2="301.30"/><line x1="230.88" y1="307.00" x2="236.58" y2="301.30"/></g>
<rect x="213.90" y="301.30" width="11.40" height="5.70" rx="0" fill="none" stroke="#222" stroke-width="0.99" />
<clipPath id="hc6"><rect x="246.90" y="301.30" width="11.00" height="5.70"/></clipPath>
<g clip-path="url(#hc6)" stroke="#333" stroke-width="0.9"><line x1="242.88" y1="307.00" x2="248.58" y2="301.30"/><line x1="247.08" y1="307.00" x2="252.78" y2="301.30"/><line x1="251.28" y1="307.00" x2="256.98" y2="301.30"/><line x1="255.48" y1="307.00" x2="261.18" y2="301.30"/><line x1="259.68" y1="307.00" x2="265.38" y2="301.30"/></g>
<rect x="246.90" y="301.30" width="11.00" height="5.70" rx="0" fill="none" stroke="#222" stroke-width="0.99" />
<rect x="215.50" y="292.80" width="6.00" height="2.90" rx="1.2" fill="#777" stroke="#222" stroke-width="0.99" />
<rect x="216.40" y="301.30" width="4.20" height="6.50" rx="0" fill="#fff" stroke="#222" stroke-width="0.88" />
<rect x="215.50" y="307.30" width="6.00" height="3.00" rx="1.2" fill="#aaa" stroke="#222" stroke-width="0.99" />
<rect x="249.50" y="292.80" width="6.00" height="2.90" rx="1.2" fill="#777" stroke="#222" stroke-width="0.99" />
<rect x="250.40" y="301.30" width="4.20" height="6.50" rx="0" fill="#fff" stroke="#222" stroke-width="0.88" />
<rect x="249.50" y="307.30" width="6.00" height="3.00" rx="1.2" fill="#aaa" stroke="#222" stroke-width="0.99" />
<rect x="213.30" y="295.20" width="45.20" height="6.10" rx="1.5" fill="#fff" stroke="#222" stroke-width="1.21" />
<line x1="214.10" y1="301.20" x2="257.70" y2="301.20" stroke="#111" stroke-width="1.65" />
<clipPath id="hc7"><rect x="269.20" y="301.30" width="16.10" height="7.90"/></clipPath>
<g clip-path="url(#hc7)" stroke="#333" stroke-width="0.9"><line x1="262.98" y1="309.20" x2="270.88" y2="301.30"/><line x1="267.18" y1="309.20" x2="275.08" y2="301.30"/><line x1="271.38" y1="309.20" x2="279.28" y2="301.30"/><line x1="275.58" y1="309.20" x2="283.48" y2="301.30"/><line x1="279.78" y1="309.20" x2="287.68" y2="301.30"/><line x1="283.98" y1="309.20" x2="291.88" y2="301.30"/><line x1="288.18" y1="309.20" x2="296.08" y2="301.30"/><line x1="292.38" y1="309.20" x2="300.28" y2="301.30"/></g>
<rect x="269.20" y="301.30" width="16.10" height="7.90" rx="0" fill="none" stroke="#222" stroke-width="0.99" />
<clipPath id="hc8"><rect x="314.20" y="301.30" width="16.00" height="7.90"/></clipPath>
<g clip-path="url(#hc8)" stroke="#333" stroke-width="0.9"><line x1="307.98" y1="309.20" x2="315.88" y2="301.30"/><line x1="312.18" y1="309.20" x2="320.08" y2="301.30"/><line x1="316.38" y1="309.20" x2="324.28" y2="301.30"/><line x1="320.58" y1="309.20" x2="328.48" y2="301.30"/><line x1="324.78" y1="309.20" x2="332.68" y2="301.30"/><line x1="328.98" y1="309.20" x2="336.88" y2="301.30"/><line x1="333.18" y1="309.20" x2="341.08" y2="301.30"/><line x1="337.38" y1="309.20" x2="345.28" y2="301.30"/></g>
<rect x="314.20" y="301.30" width="16.00" height="7.90" rx="0" fill="none" stroke="#222" stroke-width="0.99" />
<rect x="271.30" y="290.00" width="6.00" height="3.70" rx="1.2" fill="#777" stroke="#222" stroke-width="0.99" />
<rect x="272.20" y="301.30" width="4.20" height="8.80" rx="0" fill="#fff" stroke="#222" stroke-width="0.88" />
<rect x="271.30" y="309.60" width="6.00" height="3.00" rx="1.2" fill="#aaa" stroke="#222" stroke-width="0.99" />
<rect x="319.60" y="290.00" width="6.00" height="3.70" rx="1.2" fill="#777" stroke="#222" stroke-width="0.99" />
<rect x="320.50" y="301.30" width="4.20" height="8.80" rx="0" fill="#fff" stroke="#222" stroke-width="0.88" />
<rect x="319.60" y="309.60" width="6.00" height="3.00" rx="1.2" fill="#aaa" stroke="#222" stroke-width="0.99" />
<rect x="268.60" y="293.20" width="62.20" height="8.10" rx="1.5" fill="#fff" stroke="#222" stroke-width="1.21" />
<line x1="269.40" y1="301.20" x2="330.00" y2="301.20" stroke="#111" stroke-width="1.65" />
<clipPath id="hc9"><rect x="343.00" y="301.30" width="16.70" height="8.90"/></clipPath>
<g clip-path="url(#hc9)" stroke="#333" stroke-width="0.9"><line x1="335.78" y1="310.20" x2="344.68" y2="301.30"/><line x1="339.98" y1="310.20" x2="348.88" y2="301.30"/><line x1="344.18" y1="310.20" x2="353.08" y2="301.30"/><line x1="348.38" y1="310.20" x2="357.28" y2="301.30"/><line x1="352.58" y1="310.20" x2="361.48" y2="301.30"/><line x1="356.78" y1="310.20" x2="365.68" y2="301.30"/><line x1="360.98" y1="310.20" x2="369.88" y2="301.30"/><line x1="365.18" y1="310.20" x2="374.08" y2="301.30"/></g>
<rect x="343.00" y="301.30" width="16.70" height="8.90" rx="0" fill="none" stroke="#222" stroke-width="0.99" />
<clipPath id="hc10"><rect x="387.70" y="301.30" width="16.70" height="8.90"/></clipPath>
<g clip-path="url(#hc10)" stroke="#333" stroke-width="0.9"><line x1="380.48" y1="310.20" x2="389.38" y2="301.30"/><line x1="384.68" y1="310.20" x2="393.58" y2="301.30"/><line x1="388.88" y1="310.20" x2="397.78" y2="301.30"/><line x1="393.08" y1="310.20" x2="401.98" y2="301.30"/><line x1="397.28" y1="310.20" x2="406.18" y2="301.30"/><line x1="401.48" y1="310.20" x2="410.38" y2="301.30"/><line x1="405.68" y1="310.20" x2="414.58" y2="301.30"/><line x1="409.88" y1="310.20" x2="418.78" y2="301.30"/></g>
<rect x="387.70" y="301.30" width="16.70" height="8.90" rx="0" fill="none" stroke="#222" stroke-width="0.99" />
<rect x="346.60" y="290.30" width="6.00" height="3.90" rx="1.2" fill="#777" stroke="#222" stroke-width="0.99" />
<rect x="347.50" y="301.30" width="4.20" height="9.20" rx="0" fill="#fff" stroke="#222" stroke-width="0.88" />
<rect x="346.60" y="310.00" width="6.00" height="3.00" rx="1.2" fill="#aaa" stroke="#222" stroke-width="0.99" />
<rect x="394.40" y="290.30" width="6.00" height="3.90" rx="1.2" fill="#777" stroke="#222" stroke-width="0.99" />
<rect x="395.30" y="301.30" width="4.20" height="9.20" rx="0" fill="#fff" stroke="#222" stroke-width="0.88" />
<rect x="394.40" y="310.00" width="6.00" height="3.00" rx="1.2" fill="#aaa" stroke="#222" stroke-width="0.99" />
<rect x="342.40" y="293.70" width="62.60" height="7.60" rx="1.5" fill="#fff" stroke="#222" stroke-width="1.21" />
<line x1="343.20" y1="301.20" x2="404.20" y2="301.20" stroke="#111" stroke-width="1.65" />
<path d="M406,324 L407,324 L427,345.2" fill="none" stroke="#222" stroke-width="1.1" />
<line x1="438.00" y1="345.40" x2="449.00" y2="345.40" stroke="#222" stroke-width="1.1" />
<path d="M406,327 L404.6,327 L423.6,346.2" fill="none" stroke="#222" stroke-width="1.1" />
<path d="M423.4,344.9 L439,344.9 L439.6,346.7 L424.2,346.7 Z" fill="#1c1c1c"/>
<path d="M427.8,351.5 L440.8,351.5 L441.2,352.9 L428.2,352.9 Z" fill="#1c1c1c"/>
<line x1="440.50" y1="352.20" x2="449.00" y2="352.20" stroke="#222" stroke-width="1.1" />
<line x1="439.20" y1="346.60" x2="441.00" y2="351.60" stroke="#222" stroke-width="0.88" />
<line x1="437.00" y1="346.60" x2="438.80" y2="351.60" stroke="#555" stroke-width="0.66" />
<path d="M431.71,352.9 A88.6 88.6 0 0 1 431.77,449.0" fill="none" stroke="#222" stroke-width="1.1" />
<path d="M427.02,352.9 A84.7 84.7 0 0 1 426.67,449.6" fill="none" stroke="#222" stroke-width="1.1" />
<line x1="430.51" y1="358.40" x2="433.62" y2="356.00" stroke="#333" stroke-width="0.825" />
<line x1="432.49" y1="362.00" x2="435.63" y2="359.60" stroke="#333" stroke-width="0.825" />
<line x1="434.25" y1="365.60" x2="437.43" y2="363.20" stroke="#333" stroke-width="0.825" />
<line x1="435.80" y1="369.20" x2="439.03" y2="366.80" stroke="#333" stroke-width="0.825" />
<line x1="437.17" y1="372.80" x2="440.45" y2="370.40" stroke="#333" stroke-width="0.825" />
<line x1="438.35" y1="376.40" x2="441.69" y2="374.00" stroke="#333" stroke-width="0.825" />
<line x1="439.36" y1="380.00" x2="442.75" y2="377.60" stroke="#333" stroke-width="0.825" />
<line x1="440.19" y1="383.60" x2="443.66" y2="381.20" stroke="#333" stroke-width="0.825" />
<line x1="440.87" y1="387.20" x2="444.41" y2="384.80" stroke="#333" stroke-width="0.825" />
<line x1="441.38" y1="390.80" x2="445.00" y2="388.40" stroke="#333" stroke-width="0.825" />
<line x1="441.74" y1="394.40" x2="445.44" y2="392.00" stroke="#333" stroke-width="0.825" />
<line x1="441.95" y1="398.00" x2="445.74" y2="395.60" stroke="#333" stroke-width="0.825" />
<line x1="442.00" y1="401.60" x2="445.88" y2="399.20" stroke="#333" stroke-width="0.825" />
<line x1="441.90" y1="405.20" x2="445.88" y2="402.80" stroke="#333" stroke-width="0.825" />
<line x1="441.64" y1="408.80" x2="445.74" y2="406.40" stroke="#333" stroke-width="0.825" />
<line x1="441.23" y1="412.40" x2="445.44" y2="410.00" stroke="#333" stroke-width="0.825" />
<line x1="440.66" y1="416.00" x2="445.00" y2="413.60" stroke="#333" stroke-width="0.825" />
<line x1="439.93" y1="419.60" x2="444.41" y2="417.20" stroke="#333" stroke-width="0.825" />
<line x1="439.04" y1="423.20" x2="443.66" y2="420.80" stroke="#333" stroke-width="0.825" />
<line x1="437.97" y1="426.80" x2="442.75" y2="424.40" stroke="#333" stroke-width="0.825" />
<line x1="436.73" y1="430.40" x2="441.69" y2="428.00" stroke="#333" stroke-width="0.825" />
<line x1="435.31" y1="434.00" x2="440.45" y2="431.60" stroke="#333" stroke-width="0.825" />
<line x1="433.68" y1="437.60" x2="439.03" y2="435.20" stroke="#333" stroke-width="0.825" />
<line x1="431.85" y1="441.20" x2="437.43" y2="438.80" stroke="#333" stroke-width="0.825" />
<line x1="429.80" y1="444.80" x2="435.63" y2="442.40" stroke="#333" stroke-width="0.825" />
<path d="M427.4,449.1 L440,449.1 L440.6,450.6 L426.4,450.6 Z" fill="#1c1c1c"/>
<path d="M423.4,455 L440.6,455 L441,456.2 L422.6,456.2 Z" fill="#1c1c1c"/>
<line x1="439.60" y1="449.80" x2="448.80" y2="449.80" stroke="#222" stroke-width="1.1" />
<line x1="440.60" y1="455.80" x2="448.80" y2="455.80" stroke="#222" stroke-width="1.1" />
<line x1="439.20" y1="450.40" x2="441.00" y2="455.20" stroke="#222" stroke-width="0.88" />
<path d="M425,456.2 L407.8,477.7 L213,477.7" fill="none" stroke="#222" stroke-width="1.1" />
<path d="M426.4,452.4 L405.4,473.6 L213.5,473.6" fill="none" stroke="#222" stroke-width="1.1" />
<line x1="217.00" y1="473.60" x2="220.20" y2="477.70" stroke="#333" stroke-width="0.825" />
<line x1="229.60" y1="473.60" x2="232.80" y2="477.70" stroke="#333" stroke-width="0.825" />
<line x1="242.20" y1="473.60" x2="245.40" y2="477.70" stroke="#333" stroke-width="0.825" />
<line x1="254.80" y1="473.60" x2="258.00" y2="477.70" stroke="#333" stroke-width="0.825" />
<line x1="267.40" y1="473.60" x2="270.60" y2="477.70" stroke="#333" stroke-width="0.825" />
<line x1="280.00" y1="473.60" x2="283.20" y2="477.70" stroke="#333" stroke-width="0.825" />
<line x1="292.60" y1="473.60" x2="295.80" y2="477.70" stroke="#333" stroke-width="0.825" />
<line x1="305.20" y1="473.60" x2="308.40" y2="477.70" stroke="#333" stroke-width="0.825" />
<line x1="317.80" y1="473.60" x2="321.00" y2="477.70" stroke="#333" stroke-width="0.825" />
<line x1="330.40" y1="473.60" x2="333.60" y2="477.70" stroke="#333" stroke-width="0.825" />
<line x1="343.00" y1="473.60" x2="346.20" y2="477.70" stroke="#333" stroke-width="0.825" />
<line x1="355.60" y1="473.60" x2="358.80" y2="477.70" stroke="#333" stroke-width="0.825" />
<line x1="368.20" y1="473.60" x2="371.40" y2="477.70" stroke="#333" stroke-width="0.825" />
<line x1="380.80" y1="473.60" x2="384.00" y2="477.70" stroke="#333" stroke-width="0.825" />
<line x1="393.40" y1="473.60" x2="396.60" y2="477.70" stroke="#333" stroke-width="0.825" />
<line x1="409.20" y1="469.60" x2="412.00" y2="471.20" stroke="#333" stroke-width="0.825" />
<line x1="414.20" y1="464.60" x2="417.00" y2="466.20" stroke="#333" stroke-width="0.825" />
<line x1="419.20" y1="459.60" x2="422.00" y2="461.20" stroke="#333" stroke-width="0.825" />
<rect x="448.80" y="339.20" width="6.90" height="19.20" rx="1" fill="#fff" stroke="#222" stroke-width="1.1" />
<rect x="450.70" y="341.40" width="3.10" height="14.80" fill="#e4e4e4" stroke="#333" stroke-width="0.8"/>
<rect x="449.40" y="339.50" width="5.70" height="1.6" fill="#777"/>
<rect x="449.40" y="356.20" width="5.70" height="1.6" fill="#777"/>
<rect x="466.60" y="339.20" width="6.90" height="19.20" rx="1" fill="#fff" stroke="#222" stroke-width="1.1" />
<rect x="468.50" y="341.40" width="3.10" height="14.80" fill="#e4e4e4" stroke="#333" stroke-width="0.8"/>
<rect x="467.20" y="339.50" width="5.70" height="1.6" fill="#777"/>
<rect x="467.20" y="356.20" width="5.70" height="1.6" fill="#777"/>
<path d="M455.70,342.60 L466.60,355.00 L466.60,342.60 L455.70,355.00 Z" fill="#fff" stroke="#222" stroke-width="0.99" />
<line x1="461.15" y1="348.80" x2="461.15" y2="330.30" stroke="#222" stroke-width="1.1" />
<line x1="455.50" y1="330.30" x2="467.00" y2="330.30" stroke="#222" stroke-width="1.21" />
<line x1="473.20" y1="345.50" x2="485.50" y2="345.50" stroke="#222" stroke-width="1.1" />
<line x1="473.20" y1="352.10" x2="485.50" y2="352.10" stroke="#222" stroke-width="1.1" />
<line x1="484.40" y1="345.50" x2="484.40" y2="352.10" stroke="#222" stroke-width="0.88" />
<rect x="448.80" y="443.20" width="6.90" height="19.20" rx="1" fill="#fff" stroke="#222" stroke-width="1.1" />
<rect x="450.70" y="445.40" width="3.10" height="14.80" fill="#e4e4e4" stroke="#333" stroke-width="0.8"/>
<rect x="449.40" y="443.50" width="5.70" height="1.6" fill="#777"/>
<rect x="449.40" y="460.20" width="5.70" height="1.6" fill="#777"/>
<rect x="466.60" y="443.20" width="6.90" height="19.20" rx="1" fill="#fff" stroke="#222" stroke-width="1.1" />
<rect x="468.50" y="445.40" width="3.10" height="14.80" fill="#e4e4e4" stroke="#333" stroke-width="0.8"/>
<rect x="467.20" y="443.50" width="5.70" height="1.6" fill="#777"/>
<rect x="467.20" y="460.20" width="5.70" height="1.6" fill="#777"/>
<path d="M455.70,446.60 L466.60,459.00 L466.60,446.60 L455.70,459.00 Z" fill="#fff" stroke="#222" stroke-width="0.99" />
<line x1="461.15" y1="452.80" x2="461.15" y2="434.30" stroke="#222" stroke-width="1.1" />
<line x1="455.50" y1="434.30" x2="467.00" y2="434.30" stroke="#222" stroke-width="1.21" />
<line x1="473.20" y1="449.50" x2="485.50" y2="449.50" stroke="#222" stroke-width="1.1" />
<line x1="473.20" y1="456.10" x2="485.50" y2="456.10" stroke="#222" stroke-width="1.1" />
<line x1="484.40" y1="449.50" x2="484.40" y2="456.10" stroke="#222" stroke-width="0.88" />
<line x1="213.50" y1="413.40" x2="290.00" y2="413.40" stroke="#222" stroke-width="1.1" />
<line x1="310.40" y1="413.40" x2="441.20" y2="413.40" stroke="#222" stroke-width="1.1" />
<line x1="213.00" y1="422.80" x2="225.00" y2="422.80" stroke="#222" stroke-width="1.1" />
<line x1="246.00" y1="422.80" x2="290.00" y2="422.80" stroke="#222" stroke-width="1.1" />
<line x1="310.40" y1="422.80" x2="330.50" y2="422.80" stroke="#222" stroke-width="1.1" />
<line x1="341.00" y1="422.80" x2="358.50" y2="422.80" stroke="#222" stroke-width="1.1" />
<line x1="387.50" y1="422.80" x2="409.50" y2="422.80" stroke="#222" stroke-width="1.1" />
<line x1="420.00" y1="422.80" x2="438.50" y2="422.80" stroke="#222" stroke-width="1.1" />
<line x1="224.00" y1="437.40" x2="249.50" y2="437.40" stroke="#222" stroke-width="1.1" />
<line x1="264.00" y1="437.40" x2="290.00" y2="437.40" stroke="#222" stroke-width="1.1" />
<line x1="310.40" y1="437.40" x2="338.70" y2="437.40" stroke="#222" stroke-width="1.1" />
<line x1="349.30" y1="437.40" x2="374.70" y2="437.40" stroke="#222" stroke-width="1.1" />
<line x1="388.00" y1="437.40" x2="432.50" y2="437.40" stroke="#222" stroke-width="1.1" />
<line x1="229.30" y1="449.90" x2="254.70" y2="449.90" stroke="#222" stroke-width="1.1" />
<line x1="266.70" y1="449.90" x2="290.00" y2="449.90" stroke="#222" stroke-width="1.1" />
<line x1="310.40" y1="449.90" x2="325.50" y2="449.90" stroke="#222" stroke-width="1.1" />
<line x1="337.30" y1="449.90" x2="360.00" y2="449.90" stroke="#222" stroke-width="1.1" />
<line x1="374.70" y1="449.90" x2="400.00" y2="449.90" stroke="#222" stroke-width="1.1" />
<line x1="412.00" y1="449.90" x2="426.00" y2="449.90" stroke="#222" stroke-width="1.1" />
<line x1="216.00" y1="460.90" x2="226.70" y2="460.90" stroke="#222" stroke-width="1.1" />
<line x1="238.70" y1="460.90" x2="265.30" y2="460.90" stroke="#222" stroke-width="1.1" />
<line x1="277.30" y1="460.90" x2="290.00" y2="460.90" stroke="#222" stroke-width="1.1" />
<line x1="310.40" y1="460.90" x2="338.70" y2="460.90" stroke="#222" stroke-width="1.1" />
<line x1="352.00" y1="460.90" x2="377.30" y2="460.90" stroke="#222" stroke-width="1.1" />
<line x1="389.30" y1="460.90" x2="414.70" y2="460.90" stroke="#222" stroke-width="1.1" />
<line x1="235.30" y1="301.30" x2="235.30" y2="409.00" stroke="#222" stroke-width="1.21" />
<circle cx="235.50" cy="419.40" r="10.50" fill="#fff" stroke="#222" stroke-width="1.0"/>
<line x1="225.00" y1="419.40" x2="246.00" y2="419.40" stroke="#111" stroke-width="1.98" />
<rect x="370.30" y="301.50" width="8.60" height="14.80" rx="0" fill="#fff" stroke="#222" stroke-width="0.99" />
<rect x="371.80" y="316.30" width="5.80" height="4.00" rx="0" fill="#fff" stroke="#222" stroke-width="0.88" />
<path d="M373.6,320.3 L376,320.3 L375.6,323 L374.8,325.2 L374,323 Z" fill="#fff" stroke="#222" stroke-width="0.88" />
<line x1="374.70" y1="325.00" x2="374.70" y2="405.50" stroke="#222" stroke-width="1.43" />
<rect x="373.4" y="345.3" width="2.6" height="1.9" fill="#fff"/>
<line x1="365.40" y1="344.90" x2="383.60" y2="344.90" stroke="#333" stroke-width="0.99" stroke-dasharray="6 1.2 1.6 1.2"/>
<line x1="365.40" y1="347.50" x2="383.60" y2="347.50" stroke="#333" stroke-width="0.99" stroke-dasharray="6 1.2 1.6 1.2"/>
<circle cx="374.30" cy="418.50" r="13.00" fill="#fff" stroke="#222" stroke-width="1.0"/>
<line x1="361.20" y1="418.50" x2="387.00" y2="418.50" stroke="#111" stroke-width="1.98" />
<rect x="290" y="302" width="20.4" height="165.5" fill="#fff"/>
<line x1="290.00" y1="301.60" x2="290.00" y2="467.50" stroke="#222" stroke-width="1.1" />
<line x1="310.40" y1="301.60" x2="310.40" y2="467.50" stroke="#222" stroke-width="1.1" />
<line x1="290.00" y1="467.50" x2="310.40" y2="467.50" stroke="#222" stroke-width="1.1" />
<rect x="282" y="341.8" width="36" height="2.8" fill="#fff"/>
<line x1="282.20" y1="341.30" x2="317.60" y2="341.30" stroke="#444" stroke-width="0.99" stroke-dasharray="8 1.3 1.8 1.3"/>
<line x1="282.20" y1="345.00" x2="317.60" y2="345.00" stroke="#444" stroke-width="0.99" stroke-dasharray="8 1.3 1.8 1.3"/>
<path d="M290,394.8 C293,393.2 296,396.2 299,394.6 C302,393 305,396 310.4,394" fill="none" stroke="#222" stroke-width="0.88" />
<line x1="291.30" y1="395.00" x2="291.30" y2="446.60" stroke="#111" stroke-width="1.76" />
<line x1="309.10" y1="394.60" x2="309.10" y2="446.60" stroke="#111" stroke-width="1.76" />
<path d="M290,446.8 C293,445 296,448.4 300,446.6 C304,445 307,448.4 310.4,446.6" fill="none" stroke="#222" stroke-width="0.88" />
<line x1="299.30" y1="395.00" x2="299.30" y2="402.00" stroke="#222" stroke-width="0.88" />
<line x1="300.90" y1="395.00" x2="300.90" y2="402.00" stroke="#222" stroke-width="0.88" />
<rect x="298.40" y="401.20" width="3.40" height="3.00" rx="0" fill="#fff" stroke="#222" stroke-width="0.77" />
<path d="M293.4,411 Q293.4,404 300,404 Q306.6,404 306.6,411 L306.6,432.5 Q306.6,439.2 300,439.2 Q293.4,439.2 293.4,432.5 Z" fill="#fff" stroke="#222" stroke-width="1.1" />
<line x1="293.40" y1="409.60" x2="306.60" y2="409.60" stroke="#222" stroke-width="0.77" />
<line x1="293.40" y1="434.00" x2="306.60" y2="434.00" stroke="#222" stroke-width="0.77" />
<path d="M290.6,447 L309.8,447 L309.8,467 L290.6,467 Z" fill="#e4e4e4"/>
<circle cx="299.80" cy="450.40" r="1.50" fill="#ccc" stroke="#333" stroke-width="0.7"/>
<circle cx="293.20" cy="457.20" r="1.50" fill="#ccc" stroke="#333" stroke-width="0.7"/>
<circle cx="307.20" cy="457.20" r="1.50" fill="#ccc" stroke="#333" stroke-width="0.7"/>
<circle cx="299.80" cy="463.40" r="1.50" fill="#ccc" stroke="#333" stroke-width="0.7"/>
<path d="M289.20,107 A9.35 6.9 0 0 1 307.90,107 Z" fill="#fff" stroke="#222" stroke-width="1.1" />
<rect x="289.20" y="107.00" width="18.70" height="6.60" rx="0" fill="#fff" stroke="#222" stroke-width="0.99" />
<line x1="289.20" y1="107.80" x2="307.90" y2="107.80" stroke="#111" stroke-width="1.43" />
<line x1="296.80" y1="110.60" x2="301.20" y2="110.60" stroke="#222" stroke-width="1.21" />
<rect x="289.10" y="114.00" width="27.10" height="159.80" rx="0" fill="#fff" stroke="#222" stroke-width="1.21" />
<line x1="289.10" y1="123.00" x2="316.20" y2="123.00" stroke="#222" stroke-width="1.1" />
<path d="M290.30,118.50 l1.8,-1.5 l0,3 z M315.00,118.50 l-1.8,-1.5 l0,3 z" fill="#222"/>
<rect x="296.30" y="115.00" width="6.40" height="7.00" fill="#7f8797" opacity="0.8"/>
<line x1="296.30" y1="115.80" x2="302.70" y2="115.80" stroke="#3a3f4a" stroke-width="0.99" />
<line x1="296.30" y1="118.70" x2="302.70" y2="118.70" stroke="#3a3f4a" stroke-width="0.99" />
<line x1="296.30" y1="121.40" x2="302.70" y2="121.40" stroke="#3a3f4a" stroke-width="0.88" />
<line x1="299.50" y1="115.20" x2="299.50" y2="122.00" stroke="#3a3f4a" stroke-width="0.99" />
<rect x="305.50" y="115.00" width="6.40" height="7.00" fill="#7f8797" opacity="0.8"/>
<line x1="305.50" y1="115.80" x2="311.90" y2="115.80" stroke="#3a3f4a" stroke-width="0.99" />
<line x1="305.50" y1="118.70" x2="311.90" y2="118.70" stroke="#3a3f4a" stroke-width="0.99" />
<line x1="305.50" y1="121.40" x2="311.90" y2="121.40" stroke="#3a3f4a" stroke-width="0.88" />
<line x1="308.70" y1="115.20" x2="308.70" y2="122.00" stroke="#3a3f4a" stroke-width="0.99" />
<line x1="291.71" y1="123.00" x2="291.71" y2="246.00" stroke="#444" stroke-width="0.99" />
<line x1="296.35" y1="123.40" x2="296.35" y2="246.00" stroke="#111" stroke-width="1.877" />
<line x1="302.60" y1="123.40" x2="302.60" y2="246.00" stroke="#111" stroke-width="1.877" />
<line x1="296.35" y1="125.50" x2="302.60" y2="125.50" stroke="#5a5a5a" stroke-width="0.99" />
<line x1="296.35" y1="127.50" x2="302.60" y2="127.50" stroke="#5a5a5a" stroke-width="0.99" />
<line x1="296.35" y1="129.50" x2="302.60" y2="129.50" stroke="#5a5a5a" stroke-width="0.99" />
<line x1="296.35" y1="131.50" x2="302.60" y2="131.50" stroke="#5a5a5a" stroke-width="0.99" />
<line x1="296.35" y1="133.50" x2="302.60" y2="133.50" stroke="#5a5a5a" stroke-width="0.99" />
<line x1="296.35" y1="135.50" x2="302.60" y2="135.50" stroke="#5a5a5a" stroke-width="0.99" />
<line x1="296.35" y1="137.50" x2="302.60" y2="137.50" stroke="#5a5a5a" stroke-width="0.99" />
<line x1="296.35" y1="139.50" x2="302.60" y2="139.50" stroke="#5a5a5a" stroke-width="0.99" />
<line x1="296.35" y1="141.50" x2="302.60" y2="141.50" stroke="#5a5a5a" stroke-width="0.99" />
<line x1="296.35" y1="143.50" x2="302.60" y2="143.50" stroke="#5a5a5a" stroke-width="0.99" />
<line x1="296.35" y1="145.50" x2="302.60" y2="145.50" stroke="#5a5a5a" stroke-width="0.99" />
<line x1="296.35" y1="147.50" x2="302.60" y2="147.50" stroke="#5a5a5a" stroke-width="0.99" />
<line x1="296.35" y1="149.50" x2="302.60" y2="149.50" stroke="#5a5a5a" stroke-width="0.99" />
<line x1="296.35" y1="151.50" x2="302.60" y2="151.50" stroke="#5a5a5a" stroke-width="0.99" />
<line x1="296.35" y1="153.50" x2="302.60" y2="153.50" stroke="#5a5a5a" stroke-width="0.99" />
<line x1="296.35" y1="155.50" x2="302.60" y2="155.50" stroke="#5a5a5a" stroke-width="0.99" />
<line x1="296.35" y1="157.50" x2="302.60" y2="157.50" stroke="#5a5a5a" stroke-width="0.99" />
<line x1="296.35" y1="159.50" x2="302.60" y2="159.50" stroke="#5a5a5a" stroke-width="0.99" />
<line x1="296.35" y1="161.50" x2="302.60" y2="161.50" stroke="#5a5a5a" stroke-width="0.99" />
<line x1="296.35" y1="163.50" x2="302.60" y2="163.50" stroke="#5a5a5a" stroke-width="0.99" />
<line x1="296.35" y1="165.50" x2="302.60" y2="165.50" stroke="#5a5a5a" stroke-width="0.99" />
<line x1="296.35" y1="167.50" x2="302.60" y2="167.50" stroke="#5a5a5a" stroke-width="0.99" />
<line x1="296.35" y1="169.50" x2="302.60" y2="169.50" stroke="#5a5a5a" stroke-width="0.99" />
<line x1="296.35" y1="171.50" x2="302.60" y2="171.50" stroke="#5a5a5a" stroke-width="0.99" />
<line x1="296.35" y1="173.50" x2="302.60" y2="173.50" stroke="#5a5a5a" stroke-width="0.99" />
<line x1="296.35" y1="175.50" x2="302.60" y2="175.50" stroke="#5a5a5a" stroke-width="0.99" />
<line x1="296.35" y1="177.50" x2="302.60" y2="177.50" stroke="#5a5a5a" stroke-width="0.99" />
<line x1="296.35" y1="179.50" x2="302.60" y2="179.50" stroke="#5a5a5a" stroke-width="0.99" />
<line x1="296.35" y1="181.50" x2="302.60" y2="181.50" stroke="#5a5a5a" stroke-width="0.99" />
<line x1="296.35" y1="183.50" x2="302.60" y2="183.50" stroke="#5a5a5a" stroke-width="0.99" />
<line x1="296.35" y1="185.50" x2="302.60" y2="185.50" stroke="#5a5a5a" stroke-width="0.99" />
<line x1="296.35" y1="187.50" x2="302.60" y2="187.50" stroke="#5a5a5a" stroke-width="0.99" />
<line x1="296.35" y1="189.50" x2="302.60" y2="189.50" stroke="#5a5a5a" stroke-width="0.99" />
<line x1="296.35" y1="191.50" x2="302.60" y2="191.50" stroke="#5a5a5a" stroke-width="0.99" />
<line x1="296.35" y1="193.50" x2="302.60" y2="193.50" stroke="#5a5a5a" stroke-width="0.99" />
<line x1="296.35" y1="195.50" x2="302.60" y2="195.50" stroke="#5a5a5a" stroke-width="0.99" />
<line x1="296.35" y1="197.50" x2="302.60" y2="197.50" stroke="#5a5a5a" stroke-width="0.99" />
<line x1="296.35" y1="199.50" x2="302.60" y2="199.50" stroke="#5a5a5a" stroke-width="0.99" />
<line x1="296.35" y1="201.50" x2="302.60" y2="201.50" stroke="#5a5a5a" stroke-width="0.99" />
<line x1="296.35" y1="203.50" x2="302.60" y2="203.50" stroke="#5a5a5a" stroke-width="0.99" />
<line x1="296.35" y1="205.50" x2="302.60" y2="205.50" stroke="#5a5a5a" stroke-width="0.99" />
<line x1="296.35" y1="207.50" x2="302.60" y2="207.50" stroke="#5a5a5a" stroke-width="0.99" />
<line x1="296.35" y1="209.50" x2="302.60" y2="209.50" stroke="#5a5a5a" stroke-width="0.99" />
<line x1="296.35" y1="211.50" x2="302.60" y2="211.50" stroke="#5a5a5a" stroke-width="0.99" />
<line x1="296.35" y1="213.50" x2="302.60" y2="213.50" stroke="#5a5a5a" stroke-width="0.99" />
<line x1="296.35" y1="215.50" x2="302.60" y2="215.50" stroke="#5a5a5a" stroke-width="0.99" />
<line x1="296.35" y1="217.50" x2="302.60" y2="217.50" stroke="#5a5a5a" stroke-width="0.99" />
<line x1="296.35" y1="219.50" x2="302.60" y2="219.50" stroke="#5a5a5a" stroke-width="0.99" />
<line x1="296.35" y1="221.50" x2="302.60" y2="221.50" stroke="#5a5a5a" stroke-width="0.99" />
<line x1="296.35" y1="223.50" x2="302.60" y2="223.50" stroke="#5a5a5a" stroke-width="0.99" />
<line x1="296.35" y1="225.50" x2="302.60" y2="225.50" stroke="#5a5a5a" stroke-width="0.99" />
<line x1="296.35" y1="227.50" x2="302.60" y2="227.50" stroke="#5a5a5a" stroke-width="0.99" />
<line x1="296.35" y1="229.50" x2="302.60" y2="229.50" stroke="#5a5a5a" stroke-width="0.99" />
<line x1="296.35" y1="231.50" x2="302.60" y2="231.50" stroke="#5a5a5a" stroke-width="0.99" />
<line x1="296.35" y1="233.50" x2="302.60" y2="233.50" stroke="#5a5a5a" stroke-width="0.99" />
<line x1="296.35" y1="235.50" x2="302.60" y2="235.50" stroke="#5a5a5a" stroke-width="0.99" />
<line x1="296.35" y1="237.50" x2="302.60" y2="237.50" stroke="#5a5a5a" stroke-width="0.99" />
<line x1="296.35" y1="239.50" x2="302.60" y2="239.50" stroke="#5a5a5a" stroke-width="0.99" />
<line x1="296.35" y1="241.50" x2="302.60" y2="241.50" stroke="#5a5a5a" stroke-width="0.99" />
<line x1="296.35" y1="243.50" x2="302.60" y2="243.50" stroke="#5a5a5a" stroke-width="0.99" />
<line x1="296.35" y1="245.50" x2="302.60" y2="245.50" stroke="#5a5a5a" stroke-width="0.99" />
<line x1="304.21" y1="126.50" x2="307.02" y2="126.50" stroke="#333" stroke-width="1.1" />
<line x1="304.21" y1="129.50" x2="307.02" y2="129.50" stroke="#333" stroke-width="1.1" />
<line x1="304.21" y1="132.50" x2="307.02" y2="132.50" stroke="#333" stroke-width="1.1" />
<line x1="304.21" y1="135.50" x2="309.83" y2="135.50" stroke="#333" stroke-width="1.1" />
<line x1="304.21" y1="138.50" x2="307.02" y2="138.50" stroke="#333" stroke-width="1.1" />
<line x1="304.21" y1="141.50" x2="307.02" y2="141.50" stroke="#333" stroke-width="1.1" />
<line x1="304.21" y1="144.50" x2="307.02" y2="144.50" stroke="#333" stroke-width="1.1" />
<line x1="304.21" y1="147.50" x2="307.02" y2="147.50" stroke="#333" stroke-width="1.1" />
<line x1="304.21" y1="150.50" x2="308.22" y2="150.50" stroke="#333" stroke-width="1.1" />
<line x1="304.21" y1="153.50" x2="307.02" y2="153.50" stroke="#333" stroke-width="1.1" />
<line x1="304.21" y1="156.50" x2="307.02" y2="156.50" stroke="#333" stroke-width="1.1" />
<line x1="304.21" y1="159.50" x2="307.02" y2="159.50" stroke="#333" stroke-width="1.1" />
<line x1="304.21" y1="162.50" x2="307.02" y2="162.50" stroke="#333" stroke-width="1.1" />
<line x1="304.21" y1="165.50" x2="309.83" y2="165.50" stroke="#333" stroke-width="1.1" />
<line x1="304.21" y1="168.50" x2="307.02" y2="168.50" stroke="#333" stroke-width="1.1" />
<line x1="304.21" y1="171.50" x2="307.02" y2="171.50" stroke="#333" stroke-width="1.1" />
<line x1="304.21" y1="174.50" x2="307.02" y2="174.50" stroke="#333" stroke-width="1.1" />
<line x1="304.21" y1="177.50" x2="307.02" y2="177.50" stroke="#333" stroke-width="1.1" />
<line x1="304.21" y1="180.50" x2="308.22" y2="180.50" stroke="#333" stroke-width="1.1" />
<line x1="304.21" y1="183.50" x2="307.02" y2="183.50" stroke="#333" stroke-width="1.1" />
<line x1="304.21" y1="186.50" x2="307.02" y2="186.50" stroke="#333" stroke-width="1.1" />
<line x1="304.21" y1="189.50" x2="307.02" y2="189.50" stroke="#333" stroke-width="1.1" />
<line x1="304.21" y1="192.50" x2="307.02" y2="192.50" stroke="#333" stroke-width="1.1" />
<line x1="304.21" y1="195.50" x2="309.83" y2="195.50" stroke="#333" stroke-width="1.1" />
<line x1="304.21" y1="198.50" x2="307.02" y2="198.50" stroke="#333" stroke-width="1.1" />
<line x1="304.21" y1="201.50" x2="307.02" y2="201.50" stroke="#333" stroke-width="1.1" />
<line x1="304.21" y1="204.50" x2="307.02" y2="204.50" stroke="#333" stroke-width="1.1" />
<line x1="304.21" y1="207.50" x2="307.02" y2="207.50" stroke="#333" stroke-width="1.1" />
<line x1="304.21" y1="210.50" x2="308.22" y2="210.50" stroke="#333" stroke-width="1.1" />
<line x1="304.21" y1="213.50" x2="307.02" y2="213.50" stroke="#333" stroke-width="1.1" />
<line x1="304.21" y1="216.50" x2="307.02" y2="216.50" stroke="#333" stroke-width="1.1" />
<line x1="304.21" y1="219.50" x2="307.02" y2="219.50" stroke="#333" stroke-width="1.1" />
<line x1="304.21" y1="222.50" x2="307.02" y2="222.50" stroke="#333" stroke-width="1.1" />
<line x1="304.21" y1="225.50" x2="309.83" y2="225.50" stroke="#333" stroke-width="1.1" />
<line x1="304.21" y1="228.50" x2="307.02" y2="228.50" stroke="#333" stroke-width="1.1" />
<line x1="304.21" y1="231.50" x2="307.02" y2="231.50" stroke="#333" stroke-width="1.1" />
<line x1="304.21" y1="234.50" x2="307.02" y2="234.50" stroke="#333" stroke-width="1.1" />
<line x1="304.21" y1="237.50" x2="307.02" y2="237.50" stroke="#333" stroke-width="1.1" />
<line x1="304.21" y1="240.50" x2="308.22" y2="240.50" stroke="#333" stroke-width="1.1" />
<line x1="304.21" y1="243.50" x2="307.02" y2="243.50" stroke="#333" stroke-width="1.1" />
<text transform="translate(314.29,133.00) scale(0.62,1)" font-size="8.33" text-anchor="end" fill="#111" stroke="#111" stroke-width="0.3" font-weight="bold" letter-spacing="-0.2">2m</text>
<text transform="translate(314.29,161.50) scale(0.84,1)" font-size="8.33" text-anchor="end" fill="#111" stroke="#111" stroke-width="0.3" font-weight="bold" letter-spacing="-0.2">90</text>
<text transform="translate(314.29,214.50) scale(0.84,1)" font-size="8.33" text-anchor="end" fill="#111" stroke="#111" stroke-width="0.3" font-weight="bold" letter-spacing="-0.2">10</text>
<text transform="translate(314.29,229.50) scale(0.62,1)" font-size="8.33" text-anchor="end" fill="#111" stroke="#111" stroke-width="0.3" font-weight="bold" letter-spacing="-0.2">0m</text>
<text transform="translate(314.29,244.00) scale(0.84,1)" font-size="8.33" text-anchor="end" fill="#111" stroke="#111" stroke-width="0.3" font-weight="bold" letter-spacing="-0.2">0</text>
<rect x="290.81" y="246.00" width="25.39" height="27.80" rx="0" fill="#fff" stroke="#222" stroke-width="1.1" />
<rect x="290.81" y="246.00" width="25.39" height="24.33" fill="#2a2a2a"/>
<rect x="290.81" y="246.00" width="25.39" height="4.73" fill="#151515"/>
<path d="M292.08,250.17 L294.87,246.83 L296.14,246.83 L293.35,250.17 Z" fill="#ddd"/>
<rect x="298.42" y="247.53" width="1.40" height="1.81" fill="#9a9a9a"/>
<rect x="301.09" y="247.53" width="1.40" height="1.81" fill="#9a9a9a"/>
<rect x="303.76" y="247.53" width="1.40" height="1.81" fill="#9a9a9a"/>
<rect x="306.42" y="247.53" width="1.40" height="1.81" fill="#9a9a9a"/>
<rect x="309.09" y="247.53" width="1.40" height="1.81" fill="#9a9a9a"/>
<rect x="311.76" y="247.53" width="1.40" height="1.81" fill="#9a9a9a"/>
<rect x="291.57" y="251.14" width="23.87" height="0.83" fill="#c8c8c8"/>
<rect x="298.42" y="253.09" width="16.25" height="1.25" fill="#8c8c8c"/>
<rect x="301.98" y="255.59" width="6.86" height="1.67" fill="#f2f2f2"/>
<rect x="308.58" y="256.43" width="5.59" height="1.11" fill="#9a9a9a"/>
<rect x="297.66" y="258.09" width="5.08" height="1.39" fill="#c4c4c4"/>
<rect x="305.03" y="258.65" width="8.63" height="1.25" fill="#8a8a8a"/>
<rect x="297.66" y="260.87" width="5.59" height="1.39" fill="#dcdcdc"/>
<rect x="306.04" y="261.15" width="5.08" height="1.25" fill="#b0b0b0"/>
<rect x="297.66" y="263.51" width="4.57" height="1.39" fill="#c8c8c8"/>
<rect x="305.03" y="263.65" width="5.59" height="1.39" fill="#d8d8d8"/>
<rect x="293.35" y="266.43" width="1.90" height="1.39" fill="#e0e0e0"/>
<rect x="297.03" y="266.43" width="1.90" height="1.39" fill="#e0e0e0"/>
<rect x="300.71" y="266.43" width="1.90" height="1.39" fill="#e0e0e0"/>
<rect x="304.39" y="266.43" width="1.90" height="1.39" fill="#e0e0e0"/>
<rect x="308.07" y="266.43" width="1.90" height="1.39" fill="#e0e0e0"/>
<rect x="311.76" y="266.43" width="1.90" height="1.39" fill="#e0e0e0"/>
<rect x="293.85" y="268.66" width="19.30" height="0.83" fill="#8a8a8a"/>
<rect x="295.89" y="271.44" width="15.24" height="0.83" fill="#bbb"/>
<rect x="284.50" y="182.60" width="36.30" height="3.80" fill="#fff"/>
<line x1="284.50" y1="182.60" x2="320.30" y2="182.60" stroke="#222" stroke-width="1.32" />
<line x1="284.50" y1="186.40" x2="320.30" y2="186.40" stroke="#222" stroke-width="1.32" />
<rect x="289.70" y="273.80" width="19.10" height="15.60" rx="0" fill="#fff" stroke="#222" stroke-width="0.99" />
<path d="M289.70000000000005,289.4 L308.8,289.4 L310.0,293.2 L288.6,293.2 Z" fill="#bbb" stroke="#222" stroke-width="0.99" />
<path d="M363.70,107 A9.35 6.9 0 0 1 382.40,107 Z" fill="#fff" stroke="#222" stroke-width="1.1" />
<rect x="363.70" y="107.00" width="18.70" height="6.60" rx="0" fill="#fff" stroke="#222" stroke-width="0.99" />
<line x1="363.70" y1="107.80" x2="382.40" y2="107.80" stroke="#111" stroke-width="1.43" />
<line x1="371.30" y1="110.60" x2="375.70" y2="110.60" stroke="#222" stroke-width="1.21" />
<rect x="363.60" y="114.00" width="27.10" height="159.80" rx="0" fill="#fff" stroke="#222" stroke-width="1.21" />
<line x1="363.60" y1="123.00" x2="390.70" y2="123.00" stroke="#222" stroke-width="1.1" />
<path d="M364.80,118.50 l1.8,-1.5 l0,3 z M389.50,118.50 l-1.8,-1.5 l0,3 z" fill="#222"/>
<rect x="370.80" y="115.00" width="6.40" height="7.00" fill="#7f8797" opacity="0.8"/>
<line x1="370.80" y1="115.80" x2="377.20" y2="115.80" stroke="#3a3f4a" stroke-width="0.99" />
<line x1="370.80" y1="118.70" x2="377.20" y2="118.70" stroke="#3a3f4a" stroke-width="0.99" />
<line x1="370.80" y1="121.40" x2="377.20" y2="121.40" stroke="#3a3f4a" stroke-width="0.88" />
<line x1="374.00" y1="115.20" x2="374.00" y2="122.00" stroke="#3a3f4a" stroke-width="0.99" />
<rect x="380.00" y="115.00" width="6.40" height="7.00" fill="#7f8797" opacity="0.8"/>
<line x1="380.00" y1="115.80" x2="386.40" y2="115.80" stroke="#3a3f4a" stroke-width="0.99" />
<line x1="380.00" y1="118.70" x2="386.40" y2="118.70" stroke="#3a3f4a" stroke-width="0.99" />
<line x1="380.00" y1="121.40" x2="386.40" y2="121.40" stroke="#3a3f4a" stroke-width="0.88" />
<line x1="383.20" y1="115.20" x2="383.20" y2="122.00" stroke="#3a3f4a" stroke-width="0.99" />
<line x1="366.21" y1="123.00" x2="366.21" y2="246.00" stroke="#444" stroke-width="0.99" />
<line x1="370.85" y1="123.40" x2="370.85" y2="246.00" stroke="#111" stroke-width="1.877" />
<line x1="377.10" y1="123.40" x2="377.10" y2="246.00" stroke="#111" stroke-width="1.877" />
<line x1="370.85" y1="125.50" x2="377.10" y2="125.50" stroke="#5a5a5a" stroke-width="0.99" />
<line x1="370.85" y1="127.50" x2="377.10" y2="127.50" stroke="#5a5a5a" stroke-width="0.99" />
<line x1="370.85" y1="129.50" x2="377.10" y2="129.50" stroke="#5a5a5a" stroke-width="0.99" />
<line x1="370.85" y1="131.50" x2="377.10" y2="131.50" stroke="#5a5a5a" stroke-width="0.99" />
<line x1="370.85" y1="133.50" x2="377.10" y2="133.50" stroke="#5a5a5a" stroke-width="0.99" />
<line x1="370.85" y1="135.50" x2="377.10" y2="135.50" stroke="#5a5a5a" stroke-width="0.99" />
<line x1="370.85" y1="137.50" x2="377.10" y2="137.50" stroke="#5a5a5a" stroke-width="0.99" />
<line x1="370.85" y1="139.50" x2="377.10" y2="139.50" stroke="#5a5a5a" stroke-width="0.99" />
<line x1="370.85" y1="141.50" x2="377.10" y2="141.50" stroke="#5a5a5a" stroke-width="0.99" />
<line x1="370.85" y1="143.50" x2="377.10" y2="143.50" stroke="#5a5a5a" stroke-width="0.99" />
<line x1="370.85" y1="145.50" x2="377.10" y2="145.50" stroke="#5a5a5a" stroke-width="0.99" />
<line x1="370.85" y1="147.50" x2="377.10" y2="147.50" stroke="#5a5a5a" stroke-width="0.99" />
<line x1="370.85" y1="149.50" x2="377.10" y2="149.50" stroke="#5a5a5a" stroke-width="0.99" />
<line x1="370.85" y1="151.50" x2="377.10" y2="151.50" stroke="#5a5a5a" stroke-width="0.99" />
<line x1="370.85" y1="153.50" x2="377.10" y2="153.50" stroke="#5a5a5a" stroke-width="0.99" />
<line x1="370.85" y1="155.50" x2="377.10" y2="155.50" stroke="#5a5a5a" stroke-width="0.99" />
<line x1="370.85" y1="157.50" x2="377.10" y2="157.50" stroke="#5a5a5a" stroke-width="0.99" />
<line x1="370.85" y1="159.50" x2="377.10" y2="159.50" stroke="#5a5a5a" stroke-width="0.99" />
<line x1="370.85" y1="161.50" x2="377.10" y2="161.50" stroke="#5a5a5a" stroke-width="0.99" />
<line x1="370.85" y1="163.50" x2="377.10" y2="163.50" stroke="#5a5a5a" stroke-width="0.99" />
<line x1="370.85" y1="165.50" x2="377.10" y2="165.50" stroke="#5a5a5a" stroke-width="0.99" />
<line x1="370.85" y1="167.50" x2="377.10" y2="167.50" stroke="#5a5a5a" stroke-width="0.99" />
<line x1="370.85" y1="169.50" x2="377.10" y2="169.50" stroke="#5a5a5a" stroke-width="0.99" />
<line x1="370.85" y1="171.50" x2="377.10" y2="171.50" stroke="#5a5a5a" stroke-width="0.99" />
<line x1="370.85" y1="173.50" x2="377.10" y2="173.50" stroke="#5a5a5a" stroke-width="0.99" />
<line x1="370.85" y1="175.50" x2="377.10" y2="175.50" stroke="#5a5a5a" stroke-width="0.99" />
<line x1="370.85" y1="177.50" x2="377.10" y2="177.50" stroke="#5a5a5a" stroke-width="0.99" />
<line x1="370.85" y1="179.50" x2="377.10" y2="179.50" stroke="#5a5a5a" stroke-width="0.99" />
<line x1="370.85" y1="181.50" x2="377.10" y2="181.50" stroke="#5a5a5a" stroke-width="0.99" />
<line x1="370.85" y1="183.50" x2="377.10" y2="183.50" stroke="#5a5a5a" stroke-width="0.99" />
<line x1="370.85" y1="185.50" x2="377.10" y2="185.50" stroke="#5a5a5a" stroke-width="0.99" />
<line x1="370.85" y1="187.50" x2="377.10" y2="187.50" stroke="#5a5a5a" stroke-width="0.99" />
<line x1="370.85" y1="189.50" x2="377.10" y2="189.50" stroke="#5a5a5a" stroke-width="0.99" />
<line x1="370.85" y1="191.50" x2="377.10" y2="191.50" stroke="#5a5a5a" stroke-width="0.99" />
<line x1="370.85" y1="193.50" x2="377.10" y2="193.50" stroke="#5a5a5a" stroke-width="0.99" />
<line x1="370.85" y1="195.50" x2="377.10" y2="195.50" stroke="#5a5a5a" stroke-width="0.99" />
<line x1="370.85" y1="197.50" x2="377.10" y2="197.50" stroke="#5a5a5a" stroke-width="0.99" />
<line x1="370.85" y1="199.50" x2="377.10" y2="199.50" stroke="#5a5a5a" stroke-width="0.99" />
<line x1="370.85" y1="201.50" x2="377.10" y2="201.50" stroke="#5a5a5a" stroke-width="0.99" />
<line x1="370.85" y1="203.50" x2="377.10" y2="203.50" stroke="#5a5a5a" stroke-width="0.99" />
<line x1="370.85" y1="205.50" x2="377.10" y2="205.50" stroke="#5a5a5a" stroke-width="0.99" />
<line x1="370.85" y1="207.50" x2="377.10" y2="207.50" stroke="#5a5a5a" stroke-width="0.99" />
<line x1="370.85" y1="209.50" x2="377.10" y2="209.50" stroke="#5a5a5a" stroke-width="0.99" />
<line x1="370.85" y1="211.50" x2="377.10" y2="211.50" stroke="#5a5a5a" stroke-width="0.99" />
<line x1="370.85" y1="213.50" x2="377.10" y2="213.50" stroke="#5a5a5a" stroke-width="0.99" />
<line x1="370.85" y1="215.50" x2="377.10" y2="215.50" stroke="#5a5a5a" stroke-width="0.99" />
<line x1="370.85" y1="217.50" x2="377.10" y2="217.50" stroke="#5a5a5a" stroke-width="0.99" />
<line x1="370.85" y1="219.50" x2="377.10" y2="219.50" stroke="#5a5a5a" stroke-width="0.99" />
<line x1="370.85" y1="221.50" x2="377.10" y2="221.50" stroke="#5a5a5a" stroke-width="0.99" />
<line x1="370.85" y1="223.50" x2="377.10" y2="223.50" stroke="#5a5a5a" stroke-width="0.99" />
<line x1="370.85" y1="225.50" x2="377.10" y2="225.50" stroke="#5a5a5a" stroke-width="0.99" />
<line x1="370.85" y1="227.50" x2="377.10" y2="227.50" stroke="#5a5a5a" stroke-width="0.99" />
<line x1="370.85" y1="229.50" x2="377.10" y2="229.50" stroke="#5a5a5a" stroke-width="0.99" />
<line x1="370.85" y1="231.50" x2="377.10" y2="231.50" stroke="#5a5a5a" stroke-width="0.99" />
<line x1="370.85" y1="233.50" x2="377.10" y2="233.50" stroke="#5a5a5a" stroke-width="0.99" />
<line x1="370.85" y1="235.50" x2="377.10" y2="235.50" stroke="#5a5a5a" stroke-width="0.99" />
<line x1="370.85" y1="237.50" x2="377.10" y2="237.50" stroke="#5a5a5a" stroke-width="0.99" />
<line x1="370.85" y1="239.50" x2="377.10" y2="239.50" stroke="#5a5a5a" stroke-width="0.99" />
<line x1="370.85" y1="241.50" x2="377.10" y2="241.50" stroke="#5a5a5a" stroke-width="0.99" />
<line x1="370.85" y1="243.50" x2="377.10" y2="243.50" stroke="#5a5a5a" stroke-width="0.99" />
<line x1="370.85" y1="245.50" x2="377.10" y2="245.50" stroke="#5a5a5a" stroke-width="0.99" />
<line x1="378.71" y1="126.50" x2="381.52" y2="126.50" stroke="#333" stroke-width="1.1" />
<line x1="378.71" y1="129.50" x2="381.52" y2="129.50" stroke="#333" stroke-width="1.1" />
<line x1="378.71" y1="132.50" x2="381.52" y2="132.50" stroke="#333" stroke-width="1.1" />
<line x1="378.71" y1="135.50" x2="384.33" y2="135.50" stroke="#333" stroke-width="1.1" />
<line x1="378.71" y1="138.50" x2="381.52" y2="138.50" stroke="#333" stroke-width="1.1" />
<line x1="378.71" y1="141.50" x2="381.52" y2="141.50" stroke="#333" stroke-width="1.1" />
<line x1="378.71" y1="144.50" x2="381.52" y2="144.50" stroke="#333" stroke-width="1.1" />
<line x1="378.71" y1="147.50" x2="381.52" y2="147.50" stroke="#333" stroke-width="1.1" />
<line x1="378.71" y1="150.50" x2="382.72" y2="150.50" stroke="#333" stroke-width="1.1" />
<line x1="378.71" y1="153.50" x2="381.52" y2="153.50" stroke="#333" stroke-width="1.1" />
<line x1="378.71" y1="156.50" x2="381.52" y2="156.50" stroke="#333" stroke-width="1.1" />
<line x1="378.71" y1="159.50" x2="381.52" y2="159.50" stroke="#333" stroke-width="1.1" />
<line x1="378.71" y1="162.50" x2="381.52" y2="162.50" stroke="#333" stroke-width="1.1" />
<line x1="378.71" y1="165.50" x2="384.33" y2="165.50" stroke="#333" stroke-width="1.1" />
<line x1="378.71" y1="168.50" x2="381.52" y2="168.50" stroke="#333" stroke-width="1.1" />
<line x1="378.71" y1="171.50" x2="381.52" y2="171.50" stroke="#333" stroke-width="1.1" />
<line x1="378.71" y1="174.50" x2="381.52" y2="174.50" stroke="#333" stroke-width="1.1" />
<line x1="378.71" y1="177.50" x2="381.52" y2="177.50" stroke="#333" stroke-width="1.1" />
<line x1="378.71" y1="180.50" x2="382.72" y2="180.50" stroke="#333" stroke-width="1.1" />
<line x1="378.71" y1="183.50" x2="381.52" y2="183.50" stroke="#333" stroke-width="1.1" />
<line x1="378.71" y1="186.50" x2="381.52" y2="186.50" stroke="#333" stroke-width="1.1" />
<line x1="378.71" y1="189.50" x2="381.52" y2="189.50" stroke="#333" stroke-width="1.1" />
<line x1="378.71" y1="192.50" x2="381.52" y2="192.50" stroke="#333" stroke-width="1.1" />
<line x1="378.71" y1="195.50" x2="384.33" y2="195.50" stroke="#333" stroke-width="1.1" />
<line x1="378.71" y1="198.50" x2="381.52" y2="198.50" stroke="#333" stroke-width="1.1" />
<line x1="378.71" y1="201.50" x2="381.52" y2="201.50" stroke="#333" stroke-width="1.1" />
<line x1="378.71" y1="204.50" x2="381.52" y2="204.50" stroke="#333" stroke-width="1.1" />
<line x1="378.71" y1="207.50" x2="381.52" y2="207.50" stroke="#333" stroke-width="1.1" />
<line x1="378.71" y1="210.50" x2="382.72" y2="210.50" stroke="#333" stroke-width="1.1" />
<line x1="378.71" y1="213.50" x2="381.52" y2="213.50" stroke="#333" stroke-width="1.1" />
<line x1="378.71" y1="216.50" x2="381.52" y2="216.50" stroke="#333" stroke-width="1.1" />
<line x1="378.71" y1="219.50" x2="381.52" y2="219.50" stroke="#333" stroke-width="1.1" />
<line x1="378.71" y1="222.50" x2="381.52" y2="222.50" stroke="#333" stroke-width="1.1" />
<line x1="378.71" y1="225.50" x2="384.33" y2="225.50" stroke="#333" stroke-width="1.1" />
<line x1="378.71" y1="228.50" x2="381.52" y2="228.50" stroke="#333" stroke-width="1.1" />
<line x1="378.71" y1="231.50" x2="381.52" y2="231.50" stroke="#333" stroke-width="1.1" />
<line x1="378.71" y1="234.50" x2="381.52" y2="234.50" stroke="#333" stroke-width="1.1" />
<line x1="378.71" y1="237.50" x2="381.52" y2="237.50" stroke="#333" stroke-width="1.1" />
<line x1="378.71" y1="240.50" x2="382.72" y2="240.50" stroke="#333" stroke-width="1.1" />
<line x1="378.71" y1="243.50" x2="381.52" y2="243.50" stroke="#333" stroke-width="1.1" />
<text transform="translate(388.79,133.00) scale(0.62,1)" font-size="8.33" text-anchor="end" fill="#111" stroke="#111" stroke-width="0.3" font-weight="bold" letter-spacing="-0.2">2m</text>
<text transform="translate(388.79,161.50) scale(0.84,1)" font-size="8.33" text-anchor="end" fill="#111" stroke="#111" stroke-width="0.3" font-weight="bold" letter-spacing="-0.2">90</text>
<text transform="translate(388.79,214.50) scale(0.84,1)" font-size="8.33" text-anchor="end" fill="#111" stroke="#111" stroke-width="0.3" font-weight="bold" letter-spacing="-0.2">10</text>
<text transform="translate(388.79,229.50) scale(0.62,1)" font-size="8.33" text-anchor="end" fill="#111" stroke="#111" stroke-width="0.3" font-weight="bold" letter-spacing="-0.2">0m</text>
<text transform="translate(388.79,244.00) scale(0.84,1)" font-size="8.33" text-anchor="end" fill="#111" stroke="#111" stroke-width="0.3" font-weight="bold" letter-spacing="-0.2">0</text>
<rect x="365.31" y="246.00" width="25.39" height="27.80" rx="0" fill="#fff" stroke="#222" stroke-width="1.1" />
<rect x="365.31" y="246.00" width="25.39" height="24.33" fill="#2a2a2a"/>
<rect x="365.31" y="246.00" width="25.39" height="4.73" fill="#151515"/>
<path d="M366.58,250.17 L369.37,246.83 L370.64,246.83 L367.85,250.17 Z" fill="#ddd"/>
<rect x="372.92" y="247.53" width="1.40" height="1.81" fill="#9a9a9a"/>
<rect x="375.59" y="247.53" width="1.40" height="1.81" fill="#9a9a9a"/>
<rect x="378.26" y="247.53" width="1.40" height="1.81" fill="#9a9a9a"/>
<rect x="380.92" y="247.53" width="1.40" height="1.81" fill="#9a9a9a"/>
<rect x="383.59" y="247.53" width="1.40" height="1.81" fill="#9a9a9a"/>
<rect x="386.26" y="247.53" width="1.40" height="1.81" fill="#9a9a9a"/>
<rect x="366.07" y="251.14" width="23.87" height="0.83" fill="#c8c8c8"/>
<rect x="372.92" y="253.09" width="16.25" height="1.25" fill="#8c8c8c"/>
<rect x="376.48" y="255.59" width="6.86" height="1.67" fill="#f2f2f2"/>
<rect x="383.08" y="256.43" width="5.59" height="1.11" fill="#9a9a9a"/>
<rect x="372.16" y="258.09" width="5.08" height="1.39" fill="#c4c4c4"/>
<rect x="379.53" y="258.65" width="8.63" height="1.25" fill="#8a8a8a"/>
<rect x="372.16" y="260.87" width="5.59" height="1.39" fill="#dcdcdc"/>
<rect x="380.54" y="261.15" width="5.08" height="1.25" fill="#b0b0b0"/>
<rect x="372.16" y="263.51" width="4.57" height="1.39" fill="#c8c8c8"/>
<rect x="379.53" y="263.65" width="5.59" height="1.39" fill="#d8d8d8"/>
<rect x="367.85" y="266.43" width="1.90" height="1.39" fill="#e0e0e0"/>
<rect x="371.53" y="266.43" width="1.90" height="1.39" fill="#e0e0e0"/>
<rect x="375.21" y="266.43" width="1.90" height="1.39" fill="#e0e0e0"/>
<rect x="378.89" y="266.43" width="1.90" height="1.39" fill="#e0e0e0"/>
<rect x="382.57" y="266.43" width="1.90" height="1.39" fill="#e0e0e0"/>
<rect x="386.26" y="266.43" width="1.90" height="1.39" fill="#e0e0e0"/>
<rect x="368.35" y="268.66" width="19.30" height="0.83" fill="#8a8a8a"/>
<rect x="370.39" y="271.44" width="15.24" height="0.83" fill="#bbb"/>
<rect x="359.00" y="182.60" width="36.30" height="3.80" fill="#fff"/>
<line x1="359.00" y1="182.60" x2="394.80" y2="182.60" stroke="#222" stroke-width="1.32" />
<line x1="359.00" y1="186.40" x2="394.80" y2="186.40" stroke="#222" stroke-width="1.32" />
<rect x="364.20" y="273.80" width="19.10" height="15.60" rx="0" fill="#fff" stroke="#222" stroke-width="0.99" />
<path d="M364.20000000000005,289.4 L383.3,289.4 L384.5,293.2 L363.1,293.2 Z" fill="#bbb" stroke="#222" stroke-width="0.99" />
<rect x="185.70" y="280.00" width="11.60" height="10.70" rx="0" fill="#fff" stroke="#222" stroke-width="0.99" />
<rect x="187.60" y="290.70" width="8.00" height="21.70" rx="0" fill="#fff" stroke="#222" stroke-width="0.99" />
<rect x="187.2" y="312.2" width="8.8" height="2.6" fill="#222"/>
<line x1="197.30" y1="283.40" x2="226.00" y2="283.40" stroke="#222" stroke-width="0.99" />
<line x1="197.30" y1="287.40" x2="226.00" y2="287.40" stroke="#222" stroke-width="0.99" />
<rect x="209.0" y="281" width="2.6" height="10" fill="#bbb" stroke="#444" stroke-width="0.6"/>
<line x1="209.00" y1="283.60" x2="211.60" y2="282.40" stroke="#444" stroke-width="0.66" />
<line x1="209.00" y1="285.80" x2="211.60" y2="284.60" stroke="#444" stroke-width="0.66" />
<line x1="209.00" y1="288.00" x2="211.60" y2="286.80" stroke="#444" stroke-width="0.66" />
<line x1="209.00" y1="290.20" x2="211.60" y2="289.00" stroke="#444" stroke-width="0.66" />
<ellipse cx="210.3" cy="280.8" rx="2.7" ry="1.5" fill="#555" stroke="#222" stroke-width="0.8"/>
<ellipse cx="210.3" cy="291.3" rx="2.7" ry="1.5" fill="#555" stroke="#222" stroke-width="0.8"/>
<rect x="226.20" y="280.80" width="18.60" height="14.40" rx="0" fill="#fff" stroke="#222" stroke-width="0.99" />
<rect x="182.10" y="315.30" width="19.50" height="180.30" rx="0" fill="#fff" stroke="#222" stroke-width="1.21" />
<line x1="182.10" y1="321.20" x2="201.60" y2="321.20" stroke="#222" stroke-width="1.1" />
<path d="M183.30,318.25 l1.8,-1.5 l0,3 z M200.40,318.25 l-1.8,-1.5 l0,3 z" fill="#222"/>
<rect x="186.50" y="316.30" width="3.90" height="3.90" fill="#7f8797" opacity="0.8"/>
<line x1="186.50" y1="317.10" x2="190.40" y2="317.10" stroke="#3a3f4a" stroke-width="0.99" />
<line x1="186.50" y1="318.45" x2="190.40" y2="318.45" stroke="#3a3f4a" stroke-width="0.99" />
<line x1="186.50" y1="319.60" x2="190.40" y2="319.60" stroke="#3a3f4a" stroke-width="0.88" />
<line x1="188.45" y1="316.50" x2="188.45" y2="320.20" stroke="#3a3f4a" stroke-width="0.99" />
<rect x="192.50" y="316.30" width="3.90" height="3.90" fill="#7f8797" opacity="0.8"/>
<line x1="192.50" y1="317.10" x2="196.40" y2="317.10" stroke="#3a3f4a" stroke-width="0.99" />
<line x1="192.50" y1="318.45" x2="196.40" y2="318.45" stroke="#3a3f4a" stroke-width="0.99" />
<line x1="192.50" y1="319.60" x2="196.40" y2="319.60" stroke="#3a3f4a" stroke-width="0.88" />
<line x1="194.45" y1="316.50" x2="194.45" y2="320.20" stroke="#3a3f4a" stroke-width="0.99" />
<line x1="186.50" y1="321.60" x2="186.50" y2="475.30" stroke="#111" stroke-width="2.09" />
<line x1="191.30" y1="321.60" x2="191.30" y2="475.30" stroke="#111" stroke-width="2.09" />
<line x1="186.50" y1="323.50" x2="191.30" y2="323.50" stroke="#111" stroke-width="1.43" />
<line x1="186.50" y1="325.50" x2="191.30" y2="325.50" stroke="#111" stroke-width="1.43" />
<line x1="186.50" y1="327.50" x2="191.30" y2="327.50" stroke="#111" stroke-width="1.43" />
<line x1="186.50" y1="329.50" x2="191.30" y2="329.50" stroke="#111" stroke-width="1.43" />
<line x1="186.50" y1="331.50" x2="191.30" y2="331.50" stroke="#111" stroke-width="1.43" />
<line x1="186.50" y1="333.50" x2="191.30" y2="333.50" stroke="#111" stroke-width="1.43" />
<line x1="186.50" y1="335.50" x2="191.30" y2="335.50" stroke="#111" stroke-width="1.43" />
<line x1="186.50" y1="337.50" x2="191.30" y2="337.50" stroke="#111" stroke-width="1.43" />
<line x1="186.50" y1="339.50" x2="191.30" y2="339.50" stroke="#111" stroke-width="1.43" />
<line x1="186.50" y1="341.50" x2="191.30" y2="341.50" stroke="#111" stroke-width="1.43" />
<line x1="186.50" y1="343.50" x2="191.30" y2="343.50" stroke="#111" stroke-width="1.43" />
<line x1="186.50" y1="345.50" x2="191.30" y2="345.50" stroke="#111" stroke-width="1.43" />
<line x1="186.50" y1="347.50" x2="191.30" y2="347.50" stroke="#111" stroke-width="1.43" />
<line x1="186.50" y1="349.50" x2="191.30" y2="349.50" stroke="#111" stroke-width="1.43" />
<line x1="186.50" y1="351.50" x2="191.30" y2="351.50" stroke="#111" stroke-width="1.43" />
<line x1="186.50" y1="353.50" x2="191.30" y2="353.50" stroke="#111" stroke-width="1.43" />
<line x1="186.50" y1="355.50" x2="191.30" y2="355.50" stroke="#111" stroke-width="1.43" />
<line x1="186.50" y1="357.50" x2="191.30" y2="357.50" stroke="#111" stroke-width="1.43" />
<line x1="186.50" y1="359.50" x2="191.30" y2="359.50" stroke="#111" stroke-width="1.43" />
<line x1="186.50" y1="361.50" x2="191.30" y2="361.50" stroke="#111" stroke-width="1.43" />
<line x1="186.50" y1="363.50" x2="191.30" y2="363.50" stroke="#111" stroke-width="1.43" />
<line x1="186.50" y1="365.50" x2="191.30" y2="365.50" stroke="#111" stroke-width="1.43" />
<line x1="186.50" y1="367.50" x2="191.30" y2="367.50" stroke="#111" stroke-width="1.43" />
<line x1="186.50" y1="369.50" x2="191.30" y2="369.50" stroke="#111" stroke-width="1.43" />
<line x1="186.50" y1="371.50" x2="191.30" y2="371.50" stroke="#111" stroke-width="1.43" />
<line x1="186.50" y1="373.50" x2="191.30" y2="373.50" stroke="#111" stroke-width="1.43" />
<line x1="186.50" y1="375.50" x2="191.30" y2="375.50" stroke="#111" stroke-width="1.43" />
<line x1="186.50" y1="377.50" x2="191.30" y2="377.50" stroke="#111" stroke-width="1.43" />
<line x1="186.50" y1="379.50" x2="191.30" y2="379.50" stroke="#111" stroke-width="1.43" />
<line x1="186.50" y1="381.50" x2="191.30" y2="381.50" stroke="#111" stroke-width="1.43" />
<line x1="186.50" y1="383.50" x2="191.30" y2="383.50" stroke="#111" stroke-width="1.43" />
<line x1="186.50" y1="385.50" x2="191.30" y2="385.50" stroke="#111" stroke-width="1.43" />
<line x1="186.50" y1="387.50" x2="191.30" y2="387.50" stroke="#111" stroke-width="1.43" />
<line x1="186.50" y1="389.50" x2="191.30" y2="389.50" stroke="#111" stroke-width="1.43" />
<line x1="186.50" y1="391.50" x2="191.30" y2="391.50" stroke="#111" stroke-width="1.43" />
<line x1="186.50" y1="393.50" x2="191.30" y2="393.50" stroke="#111" stroke-width="1.43" />
<line x1="186.50" y1="395.50" x2="191.30" y2="395.50" stroke="#111" stroke-width="1.43" />
<line x1="186.50" y1="397.50" x2="191.30" y2="397.50" stroke="#111" stroke-width="1.43" />
<line x1="186.50" y1="399.50" x2="191.30" y2="399.50" stroke="#111" stroke-width="1.43" />
<line x1="186.50" y1="401.50" x2="191.30" y2="401.50" stroke="#111" stroke-width="1.43" />
<line x1="186.50" y1="403.50" x2="191.30" y2="403.50" stroke="#111" stroke-width="1.43" />
<line x1="186.50" y1="405.50" x2="191.30" y2="405.50" stroke="#111" stroke-width="1.43" />
<line x1="186.50" y1="407.50" x2="191.30" y2="407.50" stroke="#111" stroke-width="1.43" />
<line x1="186.50" y1="409.50" x2="191.30" y2="409.50" stroke="#111" stroke-width="1.43" />
<line x1="186.50" y1="411.50" x2="191.30" y2="411.50" stroke="#111" stroke-width="1.43" />
<line x1="186.50" y1="413.50" x2="191.30" y2="413.50" stroke="#111" stroke-width="1.43" />
<line x1="186.50" y1="415.50" x2="191.30" y2="415.50" stroke="#111" stroke-width="1.43" />
<line x1="186.50" y1="417.50" x2="191.30" y2="417.50" stroke="#111" stroke-width="1.43" />
<line x1="186.50" y1="419.50" x2="191.30" y2="419.50" stroke="#111" stroke-width="1.43" />
<line x1="186.50" y1="421.50" x2="191.30" y2="421.50" stroke="#111" stroke-width="1.43" />
<line x1="186.50" y1="423.50" x2="191.30" y2="423.50" stroke="#111" stroke-width="1.43" />
<line x1="186.50" y1="425.50" x2="191.30" y2="425.50" stroke="#111" stroke-width="1.43" />
<line x1="186.50" y1="427.50" x2="191.30" y2="427.50" stroke="#111" stroke-width="1.43" />
<line x1="186.50" y1="429.50" x2="191.30" y2="429.50" stroke="#111" stroke-width="1.43" />
<line x1="186.50" y1="431.50" x2="191.30" y2="431.50" stroke="#111" stroke-width="1.43" />
<line x1="186.50" y1="433.50" x2="191.30" y2="433.50" stroke="#111" stroke-width="1.43" />
<line x1="186.50" y1="435.50" x2="191.30" y2="435.50" stroke="#111" stroke-width="1.43" />
<line x1="186.50" y1="437.50" x2="191.30" y2="437.50" stroke="#111" stroke-width="1.43" />
<line x1="186.50" y1="439.50" x2="191.30" y2="439.50" stroke="#111" stroke-width="1.43" />
<line x1="186.50" y1="441.50" x2="191.30" y2="441.50" stroke="#111" stroke-width="1.43" />
<line x1="186.50" y1="443.50" x2="191.30" y2="443.50" stroke="#111" stroke-width="1.43" />
<line x1="186.50" y1="445.50" x2="191.30" y2="445.50" stroke="#111" stroke-width="1.43" />
<line x1="186.50" y1="447.50" x2="191.30" y2="447.50" stroke="#111" stroke-width="1.43" />
<line x1="186.50" y1="449.50" x2="191.30" y2="449.50" stroke="#111" stroke-width="1.43" />
<line x1="186.50" y1="451.50" x2="191.30" y2="451.50" stroke="#111" stroke-width="1.43" />
<line x1="186.50" y1="453.50" x2="191.30" y2="453.50" stroke="#111" stroke-width="1.43" />
<line x1="186.50" y1="455.50" x2="191.30" y2="455.50" stroke="#111" stroke-width="1.43" />
<line x1="186.50" y1="457.50" x2="191.30" y2="457.50" stroke="#111" stroke-width="1.43" />
<line x1="186.50" y1="459.50" x2="191.30" y2="459.50" stroke="#111" stroke-width="1.43" />
<line x1="186.50" y1="461.50" x2="191.30" y2="461.50" stroke="#111" stroke-width="1.43" />
<line x1="186.50" y1="463.50" x2="191.30" y2="463.50" stroke="#111" stroke-width="1.43" />
<line x1="186.50" y1="465.50" x2="191.30" y2="465.50" stroke="#111" stroke-width="1.43" />
<line x1="186.50" y1="467.50" x2="191.30" y2="467.50" stroke="#111" stroke-width="1.43" />
<line x1="186.50" y1="469.50" x2="191.30" y2="469.50" stroke="#111" stroke-width="1.43" />
<line x1="186.50" y1="471.50" x2="191.30" y2="471.50" stroke="#111" stroke-width="1.43" />
<line x1="186.50" y1="473.50" x2="191.30" y2="473.50" stroke="#111" stroke-width="1.43" />
<line x1="192.20" y1="324.50" x2="196.40" y2="324.50" stroke="#1c1c1c" stroke-width="1.265" />
<line x1="192.20" y1="326.50" x2="196.40" y2="326.50" stroke="#1c1c1c" stroke-width="1.265" />
<line x1="192.20" y1="328.50" x2="196.40" y2="328.50" stroke="#1c1c1c" stroke-width="1.265" />
<line x1="192.20" y1="330.50" x2="199.80" y2="330.50" stroke="#1c1c1c" stroke-width="1.265" />
<line x1="192.20" y1="332.50" x2="196.40" y2="332.50" stroke="#1c1c1c" stroke-width="1.265" />
<line x1="192.20" y1="334.50" x2="196.40" y2="334.50" stroke="#1c1c1c" stroke-width="1.265" />
<line x1="192.20" y1="336.50" x2="196.40" y2="336.50" stroke="#1c1c1c" stroke-width="1.265" />
<line x1="192.20" y1="338.50" x2="196.40" y2="338.50" stroke="#1c1c1c" stroke-width="1.265" />
<line x1="192.20" y1="340.50" x2="197.80" y2="340.50" stroke="#1c1c1c" stroke-width="1.265" />
<line x1="192.20" y1="342.50" x2="196.40" y2="342.50" stroke="#1c1c1c" stroke-width="1.265" />
<line x1="192.20" y1="344.50" x2="196.40" y2="344.50" stroke="#1c1c1c" stroke-width="1.265" />
<line x1="192.20" y1="346.50" x2="196.40" y2="346.50" stroke="#1c1c1c" stroke-width="1.265" />
<line x1="192.20" y1="348.50" x2="196.40" y2="348.50" stroke="#1c1c1c" stroke-width="1.265" />
<line x1="192.20" y1="350.50" x2="199.80" y2="350.50" stroke="#1c1c1c" stroke-width="1.265" />
<line x1="192.20" y1="352.50" x2="196.40" y2="352.50" stroke="#1c1c1c" stroke-width="1.265" />
<line x1="192.20" y1="354.50" x2="196.40" y2="354.50" stroke="#1c1c1c" stroke-width="1.265" />
<line x1="192.20" y1="356.50" x2="196.40" y2="356.50" stroke="#1c1c1c" stroke-width="1.265" />
<line x1="192.20" y1="358.50" x2="196.40" y2="358.50" stroke="#1c1c1c" stroke-width="1.265" />
<line x1="192.20" y1="360.50" x2="197.80" y2="360.50" stroke="#1c1c1c" stroke-width="1.265" />
<line x1="192.20" y1="362.50" x2="196.40" y2="362.50" stroke="#1c1c1c" stroke-width="1.265" />
<line x1="192.20" y1="364.50" x2="196.40" y2="364.50" stroke="#1c1c1c" stroke-width="1.265" />
<line x1="192.20" y1="366.50" x2="196.40" y2="366.50" stroke="#1c1c1c" stroke-width="1.265" />
<line x1="192.20" y1="368.50" x2="196.40" y2="368.50" stroke="#1c1c1c" stroke-width="1.265" />
<line x1="192.20" y1="370.50" x2="199.80" y2="370.50" stroke="#1c1c1c" stroke-width="1.265" />
<line x1="192.20" y1="372.50" x2="196.40" y2="372.50" stroke="#1c1c1c" stroke-width="1.265" />
<line x1="192.20" y1="374.50" x2="196.40" y2="374.50" stroke="#1c1c1c" stroke-width="1.265" />
<line x1="192.20" y1="376.50" x2="196.40" y2="376.50" stroke="#1c1c1c" stroke-width="1.265" />
<line x1="192.20" y1="378.50" x2="196.40" y2="378.50" stroke="#1c1c1c" stroke-width="1.265" />
<line x1="192.20" y1="380.50" x2="197.80" y2="380.50" stroke="#1c1c1c" stroke-width="1.265" />
<line x1="192.20" y1="382.50" x2="196.40" y2="382.50" stroke="#1c1c1c" stroke-width="1.265" />
<line x1="192.20" y1="384.50" x2="196.40" y2="384.50" stroke="#1c1c1c" stroke-width="1.265" />
<line x1="192.20" y1="386.50" x2="196.40" y2="386.50" stroke="#1c1c1c" stroke-width="1.265" />
<line x1="192.20" y1="388.50" x2="196.40" y2="388.50" stroke="#1c1c1c" stroke-width="1.265" />
<line x1="192.20" y1="390.50" x2="199.80" y2="390.50" stroke="#1c1c1c" stroke-width="1.265" />
<line x1="192.20" y1="392.50" x2="196.40" y2="392.50" stroke="#1c1c1c" stroke-width="1.265" />
<line x1="192.20" y1="394.50" x2="196.40" y2="394.50" stroke="#1c1c1c" stroke-width="1.265" />
<line x1="192.20" y1="396.50" x2="196.40" y2="396.50" stroke="#1c1c1c" stroke-width="1.265" />
<line x1="192.20" y1="398.50" x2="196.40" y2="398.50" stroke="#1c1c1c" stroke-width="1.265" />
<line x1="192.20" y1="400.50" x2="197.80" y2="400.50" stroke="#1c1c1c" stroke-width="1.265" />
<line x1="192.20" y1="402.50" x2="196.40" y2="402.50" stroke="#1c1c1c" stroke-width="1.265" />
<line x1="192.20" y1="404.50" x2="196.40" y2="404.50" stroke="#1c1c1c" stroke-width="1.265" />
<line x1="192.20" y1="406.50" x2="196.40" y2="406.50" stroke="#1c1c1c" stroke-width="1.265" />
<line x1="192.20" y1="408.50" x2="196.40" y2="408.50" stroke="#1c1c1c" stroke-width="1.265" />
<line x1="192.20" y1="410.50" x2="199.80" y2="410.50" stroke="#1c1c1c" stroke-width="1.265" />
<line x1="192.20" y1="412.50" x2="196.40" y2="412.50" stroke="#1c1c1c" stroke-width="1.265" />
<line x1="192.20" y1="414.50" x2="196.40" y2="414.50" stroke="#1c1c1c" stroke-width="1.265" />
<line x1="192.20" y1="416.50" x2="196.40" y2="416.50" stroke="#1c1c1c" stroke-width="1.265" />
<line x1="192.20" y1="418.50" x2="196.40" y2="418.50" stroke="#1c1c1c" stroke-width="1.265" />
<line x1="192.20" y1="420.50" x2="197.80" y2="420.50" stroke="#1c1c1c" stroke-width="1.265" />
<line x1="192.20" y1="422.50" x2="196.40" y2="422.50" stroke="#1c1c1c" stroke-width="1.265" />
<line x1="192.20" y1="424.50" x2="196.40" y2="424.50" stroke="#1c1c1c" stroke-width="1.265" />
<line x1="192.20" y1="426.50" x2="196.40" y2="426.50" stroke="#1c1c1c" stroke-width="1.265" />
<line x1="192.20" y1="428.50" x2="196.40" y2="428.50" stroke="#1c1c1c" stroke-width="1.265" />
<line x1="192.20" y1="430.50" x2="199.80" y2="430.50" stroke="#1c1c1c" stroke-width="1.265" />
<line x1="192.20" y1="432.50" x2="196.40" y2="432.50" stroke="#1c1c1c" stroke-width="1.265" />
<line x1="192.20" y1="434.50" x2="196.40" y2="434.50" stroke="#1c1c1c" stroke-width="1.265" />
<line x1="192.20" y1="436.50" x2="196.40" y2="436.50" stroke="#1c1c1c" stroke-width="1.265" />
<line x1="192.20" y1="438.50" x2="196.40" y2="438.50" stroke="#1c1c1c" stroke-width="1.265" />
<line x1="192.20" y1="440.50" x2="197.80" y2="440.50" stroke="#1c1c1c" stroke-width="1.265" />
<line x1="192.20" y1="442.50" x2="196.40" y2="442.50" stroke="#1c1c1c" stroke-width="1.265" />
<line x1="192.20" y1="444.50" x2="196.40" y2="444.50" stroke="#1c1c1c" stroke-width="1.265" />
<line x1="192.20" y1="446.50" x2="196.40" y2="446.50" stroke="#1c1c1c" stroke-width="1.265" />
<line x1="192.20" y1="448.50" x2="196.40" y2="448.50" stroke="#1c1c1c" stroke-width="1.265" />
<line x1="192.20" y1="450.50" x2="199.80" y2="450.50" stroke="#1c1c1c" stroke-width="1.265" />
<line x1="192.20" y1="452.50" x2="196.40" y2="452.50" stroke="#1c1c1c" stroke-width="1.265" />
<line x1="192.20" y1="454.50" x2="196.40" y2="454.50" stroke="#1c1c1c" stroke-width="1.265" />
<line x1="192.20" y1="456.50" x2="196.40" y2="456.50" stroke="#1c1c1c" stroke-width="1.265" />
<line x1="192.20" y1="458.50" x2="196.40" y2="458.50" stroke="#1c1c1c" stroke-width="1.265" />
<line x1="192.20" y1="460.50" x2="197.80" y2="460.50" stroke="#1c1c1c" stroke-width="1.265" />
<line x1="192.20" y1="462.50" x2="196.40" y2="462.50" stroke="#1c1c1c" stroke-width="1.265" />
<line x1="192.20" y1="464.50" x2="196.40" y2="464.50" stroke="#1c1c1c" stroke-width="1.265" />
<line x1="192.20" y1="466.50" x2="196.40" y2="466.50" stroke="#1c1c1c" stroke-width="1.265" />
<line x1="192.20" y1="468.50" x2="196.40" y2="468.50" stroke="#1c1c1c" stroke-width="1.265" />
<line x1="192.20" y1="470.50" x2="199.80" y2="470.50" stroke="#1c1c1c" stroke-width="1.265" />
<line x1="192.20" y1="472.50" x2="196.40" y2="472.50" stroke="#1c1c1c" stroke-width="1.265" />
<line x1="192.20" y1="474.50" x2="196.40" y2="474.50" stroke="#1c1c1c" stroke-width="1.265" />
<text transform="translate(200.23,331.50) scale(0.62,1)" font-size="6.60" text-anchor="end" fill="#111" stroke="#111" stroke-width="0.3" font-weight="bold" letter-spacing="-0.2">2m</text>
<text transform="translate(200.23,354.00) scale(0.84,1)" font-size="6.60" text-anchor="end" fill="#111" stroke="#111" stroke-width="0.3" font-weight="bold" letter-spacing="-0.2">30</text>
<text transform="translate(200.23,376.00) scale(0.84,1)" font-size="6.60" text-anchor="end" fill="#111" stroke="#111" stroke-width="0.3" font-weight="bold" letter-spacing="-0.2">50</text>
<text transform="translate(200.23,398.00) scale(0.84,1)" font-size="6.60" text-anchor="end" fill="#111" stroke="#111" stroke-width="0.3" font-weight="bold" letter-spacing="-0.2">20</text>
<text transform="translate(200.23,419.50) scale(0.84,1)" font-size="6.60" text-anchor="end" fill="#111" stroke="#111" stroke-width="0.3" font-weight="bold" letter-spacing="-0.2">40</text>
<text transform="translate(200.23,452.00) scale(0.84,1)" font-size="6.60" text-anchor="end" fill="#111" stroke="#111" stroke-width="0.3" font-weight="bold" letter-spacing="-0.2">10</text>
<text transform="translate(200.23,464.00) scale(0.84,1)" font-size="6.60" text-anchor="end" fill="#111" stroke="#111" stroke-width="0.3" font-weight="bold" letter-spacing="-0.2">08</text>
<text transform="translate(200.23,474.20) scale(0.84,1)" font-size="6.60" text-anchor="end" fill="#111" stroke="#111" stroke-width="0.3" font-weight="bold" letter-spacing="-0.2">0</text>
<rect x="183.30" y="475.30" width="18.30" height="20.30" rx="0" fill="#fff" stroke="#222" stroke-width="1.1" />
<rect x="183.30" y="475.30" width="18.30" height="17.76" fill="#2a2a2a"/>
<rect x="183.30" y="475.30" width="18.30" height="3.45" fill="#151515"/>
<path d="M184.21,478.35 L186.23,475.91 L187.14,475.91 L185.13,478.35 Z" fill="#ddd"/>
<rect x="188.79" y="476.42" width="1.01" height="1.32" fill="#9a9a9a"/>
<rect x="190.71" y="476.42" width="1.01" height="1.32" fill="#9a9a9a"/>
<rect x="192.63" y="476.42" width="1.01" height="1.32" fill="#9a9a9a"/>
<rect x="194.55" y="476.42" width="1.01" height="1.32" fill="#9a9a9a"/>
<rect x="196.48" y="476.42" width="1.01" height="1.32" fill="#9a9a9a"/>
<rect x="198.40" y="476.42" width="1.01" height="1.32" fill="#9a9a9a"/>
<rect x="183.85" y="479.06" width="17.20" height="0.61" fill="#c8c8c8"/>
<rect x="188.79" y="480.48" width="11.71" height="0.91" fill="#8c8c8c"/>
<rect x="191.35" y="482.30" width="4.94" height="1.22" fill="#f2f2f2"/>
<rect x="196.11" y="482.91" width="4.03" height="0.81" fill="#9a9a9a"/>
<rect x="188.24" y="484.13" width="3.66" height="1.02" fill="#c4c4c4"/>
<rect x="193.55" y="484.54" width="6.22" height="0.91" fill="#8a8a8a"/>
<rect x="188.24" y="486.16" width="4.03" height="1.02" fill="#dcdcdc"/>
<rect x="194.28" y="486.36" width="3.66" height="0.91" fill="#b0b0b0"/>
<rect x="188.24" y="488.09" width="3.29" height="1.02" fill="#c8c8c8"/>
<rect x="193.55" y="488.19" width="4.03" height="1.02" fill="#d8d8d8"/>
<rect x="185.13" y="490.22" width="1.37" height="1.02" fill="#e0e0e0"/>
<rect x="187.78" y="490.22" width="1.37" height="1.02" fill="#e0e0e0"/>
<rect x="190.44" y="490.22" width="1.37" height="1.02" fill="#e0e0e0"/>
<rect x="193.09" y="490.22" width="1.37" height="1.02" fill="#e0e0e0"/>
<rect x="195.74" y="490.22" width="1.37" height="1.02" fill="#e0e0e0"/>
<rect x="198.40" y="490.22" width="1.37" height="1.02" fill="#e0e0e0"/>
<rect x="185.50" y="491.84" width="13.91" height="0.61" fill="#8a8a8a"/>
<rect x="186.96" y="493.87" width="10.98" height="0.61" fill="#bbb"/>
<rect x="178.10" y="427.50" width="27.50" height="4.00" fill="#fff"/>
<line x1="178.10" y1="427.50" x2="205.10" y2="427.50" stroke="#222" stroke-width="1.32" />
<line x1="178.10" y1="431.50" x2="205.10" y2="431.50" stroke="#222" stroke-width="1.32" />
<rect x="188.40" y="495.60" width="6.60" height="6.80" rx="0.8" fill="#fff" stroke="#222" stroke-width="0.99" />
<line x1="203.20" y1="374.20" x2="206.00" y2="374.20" stroke="#555" stroke-width="0.77" />
<line x1="203.20" y1="394.60" x2="206.00" y2="394.60" stroke="#555" stroke-width="0.77" />
<rect x="490.00" y="312.00" width="8.00" height="3.20" rx="0.8" fill="#fff" stroke="#222" stroke-width="0.99" />
<line x1="494.00" y1="312.00" x2="494.00" y2="315.20" stroke="#222" stroke-width="0.66" />
<rect x="485.80" y="315.40" width="16.40" height="5.40" rx="0" fill="#e2e2e2" stroke="#222" stroke-width="0.99" />
<line x1="485.80" y1="317.40" x2="502.40" y2="317.40" stroke="#222" stroke-width="0.77" />
<line x1="485.80" y1="319.40" x2="502.40" y2="319.40" stroke="#222" stroke-width="0.77" />
<rect x="485.40" y="321.20" width="17.40" height="2.80" rx="0.6" fill="#fff" stroke="#222" stroke-width="0.99" />
<rect x="485.60" y="324.30" width="22.60" height="155.70" rx="0" fill="#fff" stroke="#222" stroke-width="1.21" />
<line x1="485.60" y1="332.60" x2="508.20" y2="332.60" stroke="#222" stroke-width="1.1" />
<path d="M486.80,328.45 l1.8,-1.5 l0,3 z M507.00,328.45 l-1.8,-1.5 l0,3 z" fill="#222"/>
<rect x="491.50" y="325.30" width="5.20" height="6.30" fill="#7f8797" opacity="0.8"/>
<line x1="491.50" y1="326.10" x2="496.70" y2="326.10" stroke="#3a3f4a" stroke-width="0.99" />
<line x1="491.50" y1="328.65" x2="496.70" y2="328.65" stroke="#3a3f4a" stroke-width="0.99" />
<line x1="491.50" y1="331.00" x2="496.70" y2="331.00" stroke="#3a3f4a" stroke-width="0.88" />
<line x1="494.10" y1="325.50" x2="494.10" y2="331.60" stroke="#3a3f4a" stroke-width="0.99" />
<rect x="498.50" y="325.30" width="5.20" height="6.30" fill="#7f8797" opacity="0.8"/>
<line x1="498.50" y1="326.10" x2="503.70" y2="326.10" stroke="#3a3f4a" stroke-width="0.99" />
<line x1="498.50" y1="328.65" x2="503.70" y2="328.65" stroke="#3a3f4a" stroke-width="0.99" />
<line x1="498.50" y1="331.00" x2="503.70" y2="331.00" stroke="#3a3f4a" stroke-width="0.88" />
<line x1="501.10" y1="325.50" x2="501.10" y2="331.60" stroke="#3a3f4a" stroke-width="0.99" />
<line x1="487.78" y1="332.60" x2="487.78" y2="457.00" stroke="#444" stroke-width="0.99" />
<line x1="491.80" y1="333.00" x2="491.80" y2="457.00" stroke="#111" stroke-width="1.565" />
<line x1="497.50" y1="333.00" x2="497.50" y2="457.00" stroke="#111" stroke-width="1.565" />
<line x1="491.80" y1="334.50" x2="497.50" y2="334.50" stroke="#5a5a5a" stroke-width="0.99" />
<line x1="491.80" y1="336.50" x2="497.50" y2="336.50" stroke="#5a5a5a" stroke-width="0.99" />
<line x1="491.80" y1="338.50" x2="497.50" y2="338.50" stroke="#5a5a5a" stroke-width="0.99" />
<line x1="491.80" y1="340.50" x2="497.50" y2="340.50" stroke="#5a5a5a" stroke-width="0.99" />
<line x1="491.80" y1="342.50" x2="497.50" y2="342.50" stroke="#5a5a5a" stroke-width="0.99" />
<line x1="491.80" y1="344.50" x2="497.50" y2="344.50" stroke="#5a5a5a" stroke-width="0.99" />
<line x1="491.80" y1="346.50" x2="497.50" y2="346.50" stroke="#5a5a5a" stroke-width="0.99" />
<line x1="491.80" y1="348.50" x2="497.50" y2="348.50" stroke="#5a5a5a" stroke-width="0.99" />
<line x1="491.80" y1="350.50" x2="497.50" y2="350.50" stroke="#5a5a5a" stroke-width="0.99" />
<line x1="491.80" y1="352.50" x2="497.50" y2="352.50" stroke="#5a5a5a" stroke-width="0.99" />
<line x1="491.80" y1="354.50" x2="497.50" y2="354.50" stroke="#5a5a5a" stroke-width="0.99" />
<line x1="491.80" y1="356.50" x2="497.50" y2="356.50" stroke="#5a5a5a" stroke-width="0.99" />
<line x1="491.80" y1="358.50" x2="497.50" y2="358.50" stroke="#5a5a5a" stroke-width="0.99" />
<line x1="491.80" y1="360.50" x2="497.50" y2="360.50" stroke="#5a5a5a" stroke-width="0.99" />
<line x1="491.80" y1="362.50" x2="497.50" y2="362.50" stroke="#5a5a5a" stroke-width="0.99" />
<line x1="491.80" y1="364.50" x2="497.50" y2="364.50" stroke="#5a5a5a" stroke-width="0.99" />
<line x1="491.80" y1="366.50" x2="497.50" y2="366.50" stroke="#5a5a5a" stroke-width="0.99" />
<line x1="491.80" y1="368.50" x2="497.50" y2="368.50" stroke="#5a5a5a" stroke-width="0.99" />
<line x1="491.80" y1="370.50" x2="497.50" y2="370.50" stroke="#5a5a5a" stroke-width="0.99" />
<line x1="491.80" y1="372.50" x2="497.50" y2="372.50" stroke="#5a5a5a" stroke-width="0.99" />
<line x1="491.80" y1="374.50" x2="497.50" y2="374.50" stroke="#5a5a5a" stroke-width="0.99" />
<line x1="491.80" y1="376.50" x2="497.50" y2="376.50" stroke="#5a5a5a" stroke-width="0.99" />
<line x1="491.80" y1="378.50" x2="497.50" y2="378.50" stroke="#5a5a5a" stroke-width="0.99" />
<line x1="491.80" y1="380.50" x2="497.50" y2="380.50" stroke="#5a5a5a" stroke-width="0.99" />
<line x1="491.80" y1="382.50" x2="497.50" y2="382.50" stroke="#5a5a5a" stroke-width="0.99" />
<line x1="491.80" y1="384.50" x2="497.50" y2="384.50" stroke="#5a5a5a" stroke-width="0.99" />
<line x1="491.80" y1="386.50" x2="497.50" y2="386.50" stroke="#5a5a5a" stroke-width="0.99" />
<line x1="491.80" y1="388.50" x2="497.50" y2="388.50" stroke="#5a5a5a" stroke-width="0.99" />
<line x1="491.80" y1="390.50" x2="497.50" y2="390.50" stroke="#5a5a5a" stroke-width="0.99" />
<line x1="491.80" y1="392.50" x2="497.50" y2="392.50" stroke="#5a5a5a" stroke-width="0.99" />
<line x1="491.80" y1="394.50" x2="497.50" y2="394.50" stroke="#5a5a5a" stroke-width="0.99" />
<line x1="491.80" y1="396.50" x2="497.50" y2="396.50" stroke="#5a5a5a" stroke-width="0.99" />
<line x1="491.80" y1="398.50" x2="497.50" y2="398.50" stroke="#5a5a5a" stroke-width="0.99" />
<line x1="491.80" y1="400.50" x2="497.50" y2="400.50" stroke="#5a5a5a" stroke-width="0.99" />
<line x1="491.80" y1="402.50" x2="497.50" y2="402.50" stroke="#5a5a5a" stroke-width="0.99" />
<line x1="491.80" y1="404.50" x2="497.50" y2="404.50" stroke="#5a5a5a" stroke-width="0.99" />
<line x1="491.80" y1="406.50" x2="497.50" y2="406.50" stroke="#5a5a5a" stroke-width="0.99" />
<line x1="491.80" y1="408.50" x2="497.50" y2="408.50" stroke="#5a5a5a" stroke-width="0.99" />
<line x1="491.80" y1="410.50" x2="497.50" y2="410.50" stroke="#5a5a5a" stroke-width="0.99" />
<line x1="491.80" y1="412.50" x2="497.50" y2="412.50" stroke="#5a5a5a" stroke-width="0.99" />
<line x1="491.80" y1="414.50" x2="497.50" y2="414.50" stroke="#5a5a5a" stroke-width="0.99" />
<line x1="491.80" y1="416.50" x2="497.50" y2="416.50" stroke="#5a5a5a" stroke-width="0.99" />
<line x1="491.80" y1="418.50" x2="497.50" y2="418.50" stroke="#5a5a5a" stroke-width="0.99" />
<line x1="491.80" y1="420.50" x2="497.50" y2="420.50" stroke="#5a5a5a" stroke-width="0.99" />
<line x1="491.80" y1="422.50" x2="497.50" y2="422.50" stroke="#5a5a5a" stroke-width="0.99" />
<line x1="491.80" y1="424.50" x2="497.50" y2="424.50" stroke="#5a5a5a" stroke-width="0.99" />
<line x1="491.80" y1="426.50" x2="497.50" y2="426.50" stroke="#5a5a5a" stroke-width="0.99" />
<line x1="491.80" y1="428.50" x2="497.50" y2="428.50" stroke="#5a5a5a" stroke-width="0.99" />
<line x1="491.80" y1="430.50" x2="497.50" y2="430.50" stroke="#5a5a5a" stroke-width="0.99" />
<line x1="491.80" y1="432.50" x2="497.50" y2="432.50" stroke="#5a5a5a" stroke-width="0.99" />
<line x1="491.80" y1="434.50" x2="497.50" y2="434.50" stroke="#5a5a5a" stroke-width="0.99" />
<line x1="491.80" y1="436.50" x2="497.50" y2="436.50" stroke="#5a5a5a" stroke-width="0.99" />
<line x1="491.80" y1="438.50" x2="497.50" y2="438.50" stroke="#5a5a5a" stroke-width="0.99" />
<line x1="491.80" y1="440.50" x2="497.50" y2="440.50" stroke="#5a5a5a" stroke-width="0.99" />
<line x1="491.80" y1="442.50" x2="497.50" y2="442.50" stroke="#5a5a5a" stroke-width="0.99" />
<line x1="491.80" y1="444.50" x2="497.50" y2="444.50" stroke="#5a5a5a" stroke-width="0.99" />
<line x1="491.80" y1="446.50" x2="497.50" y2="446.50" stroke="#5a5a5a" stroke-width="0.99" />
<line x1="491.80" y1="448.50" x2="497.50" y2="448.50" stroke="#5a5a5a" stroke-width="0.99" />
<line x1="491.80" y1="450.50" x2="497.50" y2="450.50" stroke="#5a5a5a" stroke-width="0.99" />
<line x1="491.80" y1="452.50" x2="497.50" y2="452.50" stroke="#5a5a5a" stroke-width="0.99" />
<line x1="491.80" y1="454.50" x2="497.50" y2="454.50" stroke="#5a5a5a" stroke-width="0.99" />
<line x1="491.80" y1="456.50" x2="497.50" y2="456.50" stroke="#5a5a5a" stroke-width="0.99" />
<line x1="498.84" y1="410.50" x2="501.18" y2="410.50" stroke="#8a8a8a" stroke-width="1.1" />
<line x1="498.84" y1="413.50" x2="501.18" y2="413.50" stroke="#8a8a8a" stroke-width="1.1" />
<line x1="498.84" y1="416.50" x2="501.18" y2="416.50" stroke="#8a8a8a" stroke-width="1.1" />
<line x1="498.84" y1="419.50" x2="502.19" y2="419.50" stroke="#8a8a8a" stroke-width="1.1" />
<line x1="498.84" y1="422.50" x2="501.18" y2="422.50" stroke="#8a8a8a" stroke-width="1.1" />
<line x1="498.84" y1="425.50" x2="501.18" y2="425.50" stroke="#8a8a8a" stroke-width="1.1" />
<line x1="498.84" y1="428.50" x2="501.18" y2="428.50" stroke="#8a8a8a" stroke-width="1.1" />
<line x1="498.84" y1="431.50" x2="501.18" y2="431.50" stroke="#8a8a8a" stroke-width="1.1" />
<line x1="498.84" y1="434.50" x2="503.53" y2="434.50" stroke="#8a8a8a" stroke-width="1.1" />
<line x1="498.84" y1="437.50" x2="501.18" y2="437.50" stroke="#8a8a8a" stroke-width="1.1" />
<line x1="498.84" y1="440.50" x2="501.18" y2="440.50" stroke="#8a8a8a" stroke-width="1.1" />
<line x1="498.84" y1="443.50" x2="501.18" y2="443.50" stroke="#8a8a8a" stroke-width="1.1" />
<line x1="498.84" y1="446.50" x2="501.18" y2="446.50" stroke="#8a8a8a" stroke-width="1.1" />
<line x1="498.84" y1="449.50" x2="502.19" y2="449.50" stroke="#8a8a8a" stroke-width="1.1" />
<line x1="498.84" y1="452.50" x2="501.18" y2="452.50" stroke="#8a8a8a" stroke-width="1.1" />
<line x1="498.84" y1="455.50" x2="501.18" y2="455.50" stroke="#8a8a8a" stroke-width="1.1" />
<text transform="translate(506.61,342.00) scale(0.62,1)" font-size="7.47" text-anchor="end" fill="#111" stroke="#111" stroke-width="0.3" font-weight="bold" letter-spacing="-0.2">2m</text>
<text transform="translate(506.61,366.00) scale(0.84,1)" font-size="7.47" text-anchor="end" fill="#111" stroke="#111" stroke-width="0.3" font-weight="bold" letter-spacing="-0.2">90</text>
<text transform="translate(506.61,391.00) scale(0.84,1)" font-size="7.47" text-anchor="end" fill="#111" stroke="#111" stroke-width="0.3" font-weight="bold" letter-spacing="-0.2">80</text>
<text transform="translate(506.61,432.50) scale(0.84,1)" font-size="7.47" text-anchor="end" fill="#111" stroke="#111" stroke-width="0.3" font-weight="bold" letter-spacing="-0.2">10</text>
<text transform="translate(506.61,444.50) scale(0.62,1)" font-size="7.47" text-anchor="end" fill="#111" stroke="#111" stroke-width="0.3" font-weight="bold" letter-spacing="-0.2">0m</text>
<text transform="translate(506.61,455.50) scale(0.84,1)" font-size="7.47" text-anchor="end" fill="#111" stroke="#111" stroke-width="0.3" font-weight="bold" letter-spacing="-0.2">0</text>
<rect x="487.02" y="457.00" width="21.18" height="23.00" rx="0" fill="#fff" stroke="#222" stroke-width="1.1" />
<rect x="487.02" y="457.00" width="21.18" height="20.12" fill="#2a2a2a"/>
<rect x="487.02" y="457.00" width="21.18" height="3.91" fill="#151515"/>
<path d="M488.08,460.45 L490.41,457.69 L491.47,457.69 L489.14,460.45 Z" fill="#ddd"/>
<rect x="493.38" y="458.26" width="1.16" height="1.50" fill="#9a9a9a"/>
<rect x="495.60" y="458.26" width="1.16" height="1.50" fill="#9a9a9a"/>
<rect x="497.82" y="458.26" width="1.16" height="1.50" fill="#9a9a9a"/>
<rect x="500.05" y="458.26" width="1.16" height="1.50" fill="#9a9a9a"/>
<rect x="502.27" y="458.26" width="1.16" height="1.50" fill="#9a9a9a"/>
<rect x="504.49" y="458.26" width="1.16" height="1.50" fill="#9a9a9a"/>
<rect x="487.66" y="461.25" width="19.91" height="0.69" fill="#c8c8c8"/>
<rect x="493.38" y="462.87" width="13.55" height="1.03" fill="#8c8c8c"/>
<rect x="496.34" y="464.94" width="5.72" height="1.38" fill="#f2f2f2"/>
<rect x="501.85" y="465.62" width="4.66" height="0.92" fill="#9a9a9a"/>
<rect x="492.74" y="467.00" width="4.24" height="1.15" fill="#c4c4c4"/>
<rect x="498.88" y="467.46" width="7.20" height="1.03" fill="#8a8a8a"/>
<rect x="492.74" y="469.31" width="4.66" height="1.15" fill="#dcdcdc"/>
<rect x="499.73" y="469.54" width="4.24" height="1.03" fill="#b0b0b0"/>
<rect x="492.74" y="471.49" width="3.81" height="1.15" fill="#c8c8c8"/>
<rect x="498.88" y="471.61" width="4.66" height="1.15" fill="#d8d8d8"/>
<rect x="489.14" y="473.90" width="1.59" height="1.15" fill="#e0e0e0"/>
<rect x="492.21" y="473.90" width="1.59" height="1.15" fill="#e0e0e0"/>
<rect x="495.28" y="473.90" width="1.59" height="1.15" fill="#e0e0e0"/>
<rect x="498.35" y="473.90" width="1.59" height="1.15" fill="#e0e0e0"/>
<rect x="501.42" y="473.90" width="1.59" height="1.15" fill="#e0e0e0"/>
<rect x="504.49" y="473.90" width="1.59" height="1.15" fill="#e0e0e0"/>
<rect x="489.56" y="475.75" width="16.09" height="0.69" fill="#8a8a8a"/>
<rect x="491.26" y="478.05" width="12.71" height="0.69" fill="#bbb"/>
<rect x="481.00" y="404.00" width="31.80" height="4.00" fill="#fff"/>
<line x1="481.00" y1="404.00" x2="512.30" y2="404.00" stroke="#222" stroke-width="1.32" />
<line x1="481.00" y1="408.00" x2="512.30" y2="408.00" stroke="#222" stroke-width="1.32" />
<rect x="485.60" y="480.00" width="17.40" height="3.20" rx="0" fill="#fff" stroke="#222" stroke-width="0.99" />
<line x1="491.00" y1="481.80" x2="497.50" y2="481.80" stroke="#222" stroke-width="1.21" />
<rect x="486.40" y="483.20" width="16.00" height="11.00" rx="0" fill="#fff" stroke="#222" stroke-width="0.99" />
<rect x="479.40" y="492.80" width="6.20" height="3.40" rx="0.9" fill="#999" stroke="#222" stroke-width="0.99" />
<line x1="482.50" y1="492.80" x2="482.50" y2="495.90" stroke="#222" stroke-width="0.77" />
<rect x="501.00" y="492.80" width="6.20" height="3.40" rx="0.9" fill="#999" stroke="#222" stroke-width="0.99" />
<line x1="504.10" y1="492.80" x2="504.10" y2="495.90" stroke="#222" stroke-width="0.77" />
<rect x="479.40" y="506.50" width="6.20" height="3.30" rx="0.9" fill="#999" stroke="#222" stroke-width="0.99" />
<line x1="482.50" y1="506.80" x2="482.50" y2="509.80" stroke="#222" stroke-width="0.77" />
<rect x="500.70" y="506.50" width="6.20" height="3.30" rx="0.9" fill="#999" stroke="#222" stroke-width="0.99" />
<line x1="503.80" y1="506.80" x2="503.80" y2="509.80" stroke="#222" stroke-width="0.77" />
<rect x="474.90" y="495.90" width="37.60" height="10.90" rx="1.2" fill="#fff" stroke="#222" stroke-width="1.21" />
<line x1="474.90" y1="500.90" x2="512.50" y2="500.90" stroke="#111" stroke-width="2.09" />
<rect x="490.80" y="506.80" width="6.00" height="4.20" rx="0" fill="#fff" stroke="#222" stroke-width="0.99" />
<path d="M489.6,511 L499,511 L499,514.4 L497.6,515.4 L497.6,528 L490.6,528 L490.6,515.4 L489.6,514.4 Z" fill="#fff" stroke="#222" stroke-width="0.99" />
<line x1="490.60" y1="517.50" x2="497.60" y2="517.50" stroke="#222" stroke-width="0.77" />
<line x1="490.60" y1="520.00" x2="497.60" y2="520.00" stroke="#222" stroke-width="0.77" />
<rect x="497.60" y="518.00" width="5.40" height="4.20" rx="0" fill="#fff" stroke="#222" stroke-width="0.88" />
<line x1="503.00" y1="520.10" x2="507.50" y2="520.10" stroke="#222" stroke-width="1.54" />
<rect x="507.30" y="515.80" width="3.40" height="9.00" rx="1.2" fill="#333" stroke="#222" stroke-width="0.99" />
</svg>
</body></html>
